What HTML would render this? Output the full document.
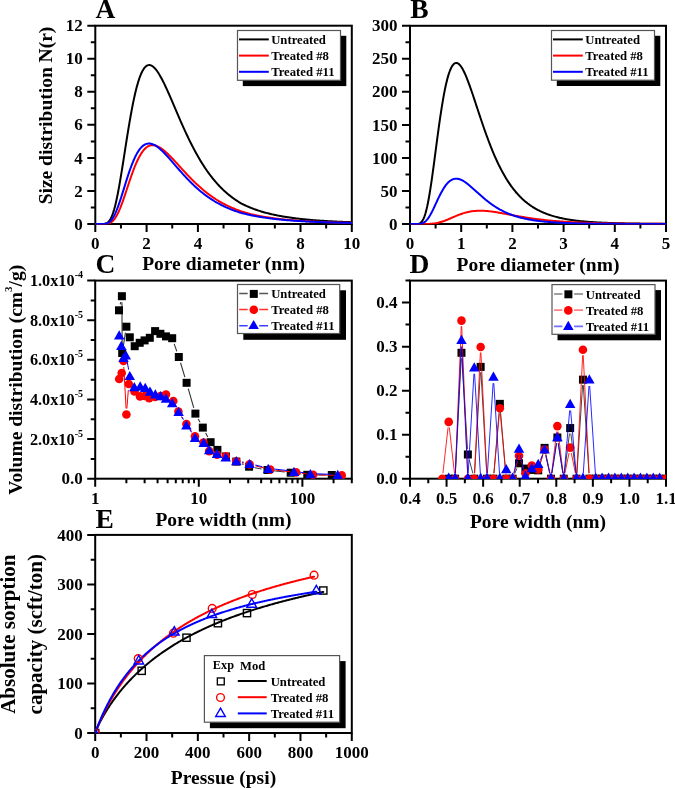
<!DOCTYPE html>
<html><head><meta charset="utf-8"><style>
html,body{margin:0;padding:0;background:#fff;width:675px;height:788px;overflow:hidden}
svg{display:block;will-change:transform}
text{font-family:"Liberation Serif",serif;font-weight:bold}
</style></head><body>
<svg width="675" height="788" viewBox="0 0 675 788">
<defs>
<clipPath id="clipA"><rect x="95.3" y="25.7" width="256.5" height="198.7"/></clipPath>
<clipPath id="clipB"><rect x="410" y="25.8" width="256" height="198.6"/></clipPath>
<clipPath id="clipC"><rect x="95.2" y="280.6" width="256.6" height="198.5"/></clipPath>
<clipPath id="clipD"><rect x="410" y="280.6" width="256" height="198.5"/></clipPath>
<clipPath id="clipE"><rect x="95.2" y="534.9" width="256.6" height="198.5"/></clipPath>
</defs>
<rect width="675" height="788" fill="#fff"/>
<rect x="95.3" y="25.7" width="256.5" height="198.3" fill="none" stroke="#000" stroke-width="2.0"/>
<path d="M95.3 224V232M146.6 224V232M197.9 224V232M249.2 224V232M300.5 224V232M351.8 224V232M120.95 224V228.5M172.25 224V228.5M223.55 224V228.5M274.85 224V228.5M326.15 224V228.5" stroke="#000" stroke-width="2.0" fill="none"/>
<text x="95.3" y="249.3" font-size="17" text-anchor="middle" font-family="Liberation Serif" font-weight="bold">0</text>
<text x="146.6" y="249.3" font-size="17" text-anchor="middle" font-family="Liberation Serif" font-weight="bold">2</text>
<text x="197.9" y="249.3" font-size="17" text-anchor="middle" font-family="Liberation Serif" font-weight="bold">4</text>
<text x="249.2" y="249.3" font-size="17" text-anchor="middle" font-family="Liberation Serif" font-weight="bold">6</text>
<text x="300.5" y="249.3" font-size="17" text-anchor="middle" font-family="Liberation Serif" font-weight="bold">8</text>
<text x="351.8" y="249.3" font-size="17" text-anchor="middle" font-family="Liberation Serif" font-weight="bold">10</text>
<path d="M95.3 224H87.3M95.3 190.95H87.3M95.3 157.9H87.3M95.3 124.85H87.3M95.3 91.8H87.3M95.3 58.75H87.3M95.3 25.7H87.3M95.3 207.47H90.8M95.3 174.43H90.8M95.3 141.38H90.8M95.3 108.32H90.8M95.3 75.27H90.8M95.3 42.22H90.8" stroke="#000" stroke-width="2.0" fill="none"/>
<text x="82.8" y="229.6" font-size="17" text-anchor="end" font-family="Liberation Serif" font-weight="bold">0</text>
<text x="82.8" y="196.55" font-size="17" text-anchor="end" font-family="Liberation Serif" font-weight="bold">2</text>
<text x="82.8" y="163.5" font-size="17" text-anchor="end" font-family="Liberation Serif" font-weight="bold">4</text>
<text x="82.8" y="130.45" font-size="17" text-anchor="end" font-family="Liberation Serif" font-weight="bold">6</text>
<text x="82.8" y="97.4" font-size="17" text-anchor="end" font-family="Liberation Serif" font-weight="bold">8</text>
<text x="82.8" y="64.35" font-size="17" text-anchor="end" font-family="Liberation Serif" font-weight="bold">10</text>
<text x="82.8" y="31.3" font-size="17" text-anchor="end" font-family="Liberation Serif" font-weight="bold">12</text>
<g clip-path="url(#clipA)">
<path d="M95.3 224 L96.16 224 L97.01 224 L97.87 224 L98.72 224 L99.58 224 L100.43 224 L101.29 224 L102.14 223.98 L103 223.96 L103.85 223.9 L104.71 223.79 L105.56 223.59 L106.42 223.28 L107.27 222.83 L108.13 222.18 L108.98 221.3 L109.84 220.16 L110.69 218.72 L111.55 216.96 L112.4 214.86 L113.26 212.41 L114.11 209.6 L114.97 206.44 L115.82 202.93 L116.68 199.09 L117.53 194.94 L118.39 190.51 L119.24 185.83 L120.1 180.93 L120.95 175.85 L121.81 170.61 L122.66 165.26 L123.52 159.83 L124.37 154.36 L125.23 148.88 L126.08 143.42 L126.94 138.01 L127.79 132.69 L128.65 127.48 L129.5 122.4 L130.36 117.47 L131.21 112.72 L132.07 108.16 L132.92 103.79 L133.78 99.65 L134.63 95.73 L135.49 92.04 L136.34 88.59 L137.2 85.38 L138.05 82.42 L138.91 79.7 L139.76 77.23 L140.62 75 L141.47 73.01 L142.33 71.26 L143.18 69.74 L144.04 68.44 L144.89 67.37 L145.75 66.51 L146.6 65.85 L147.46 65.39 L148.31 65.12 L149.17 65.03 L150.02 65.11 L150.88 65.35 L151.73 65.74 L152.59 66.27 L153.44 66.93 L154.3 67.72 L155.15 68.62 L156.01 69.64 L156.86 70.76 L157.72 71.97 L158.57 73.28 L159.43 74.67 L160.28 76.14 L161.14 77.67 L161.99 79.27 L162.85 80.93 L163.7 82.64 L164.56 84.4 L165.41 86.21 L166.27 88.05 L167.12 89.92 L167.98 91.82 L168.83 93.75 L169.69 95.7 L170.54 97.67 L171.4 99.65 L172.25 101.64 L173.11 103.64 L173.96 105.64 L174.82 107.65 L175.67 109.65 L176.53 111.65 L177.38 113.65 L178.24 115.63 L179.09 117.61 L179.95 119.58 L180.8 121.54 L181.66 123.48 L182.51 125.4 L183.37 127.31 L184.22 129.2 L185.08 131.07 L185.93 132.92 L186.79 134.75 L187.64 136.55 L188.5 138.34 L189.35 140.1 L190.21 141.84 L191.06 143.55 L191.92 145.24 L192.77 146.9 L193.63 148.54 L194.48 150.15 L195.34 151.73 L196.19 153.3 L197.05 154.83 L197.9 156.34 L198.76 157.82 L199.61 159.27 L200.47 160.7 L201.32 162.11 L202.18 163.49 L203.03 164.84 L203.89 166.16 L204.74 167.46 L205.6 168.74 L206.45 169.99 L207.31 171.22 L208.16 172.42 L209.02 173.6 L209.87 174.75 L210.73 175.88 L211.58 176.98 L212.44 178.07 L213.29 179.13 L214.15 180.17 L215 181.18 L215.86 182.18 L216.71 183.15 L217.57 184.1 L218.42 185.03 L219.28 185.94 L220.13 186.83 L220.99 187.7 L221.84 188.55 L222.7 189.38 L223.55 190.2 L224.41 190.99 L225.26 191.77 L226.12 192.53 L226.97 193.27 L227.83 194 L228.68 194.71 L229.54 195.4 L230.39 196.08 L231.25 196.74 L232.1 197.38 L232.96 198.01 L233.81 198.63 L234.67 199.23 L235.52 199.82 L236.38 200.39 L237.23 200.95 L238.09 201.5 L238.94 202.03 L239.8 202.55 L240.65 203.06 L241.51 203.56 L242.36 204.01 L243.22 204.43 L244.07 204.85 L244.93 205.26 L245.78 205.65 L246.64 206.04 L247.49 206.42 L248.35 206.79 L249.2 207.15 L250.06 207.51 L250.91 207.85 L251.77 208.19 L252.62 208.52 L253.48 208.84 L254.33 209.16 L255.19 209.47 L256.04 209.77 L256.9 210.06 L257.75 210.35 L258.61 210.63 L259.46 210.9 L260.32 211.17 L261.17 211.43 L262.03 211.69 L262.88 211.94 L263.74 212.19 L264.59 212.43 L265.45 212.66 L266.3 212.89 L267.16 213.11 L268.01 213.33 L268.87 213.55 L269.72 213.76 L270.58 213.96 L271.43 214.16 L272.29 214.36 L273.14 214.55 L274 214.73 L274.85 214.92 L275.71 215.1 L276.56 215.27 L277.42 215.44 L278.27 215.61 L279.13 215.77 L279.98 215.93 L280.84 216.09 L281.69 216.25 L282.55 216.4 L283.4 216.54 L284.26 216.69 L285.11 216.83 L285.97 216.96 L286.82 217.1 L287.68 217.23 L288.53 217.36 L289.39 217.49 L290.24 217.61 L291.1 217.73 L291.95 217.85 L292.81 217.97 L293.66 218.08 L294.52 218.19 L295.37 218.3 L296.23 218.41 L297.08 218.51 L297.94 218.61 L298.79 218.71 L299.65 218.81 L300.5 218.91 L301.36 219 L302.21 219.09 L303.07 219.18 L303.92 219.27 L304.78 219.36 L305.63 219.44 L306.49 219.52 L307.34 219.6 L308.2 219.68 L309.05 219.76 L309.91 219.84 L310.76 219.91 L311.62 219.99 L312.47 220.06 L313.33 220.13 L314.18 220.2 L315.04 220.27 L315.89 220.33 L316.75 220.4 L317.6 220.46 L318.46 220.52 L319.31 220.58 L320.17 220.64 L321.02 220.7 L321.88 220.76 L322.73 220.82 L323.59 220.87 L324.44 220.93 L325.3 220.98 L326.15 221.03 L327.01 221.08 L327.86 221.13 L328.72 221.18 L329.57 221.23 L330.43 221.28 L331.28 221.32 L332.14 221.37 L332.99 221.41 L333.85 221.46 L334.7 221.5 L335.56 221.54 L336.41 221.58 L337.27 221.63 L338.12 221.66 L338.98 221.7 L339.83 221.74 L340.69 221.78 L341.54 221.82 L342.4 221.85 L343.25 221.89 L344.11 221.92 L344.96 221.96 L345.82 221.99 L346.67 222.02 L347.53 222.06 L348.38 222.09 L349.24 222.12 L350.09 222.15 L350.95 222.18 L351.8 222.21" fill="none" stroke="#000" stroke-width="2" stroke-linejoin="round" stroke-linecap="round" />
<path d="M95.3 224 L96.16 224 L97.01 224 L97.87 224 L98.72 224 L99.58 224 L100.43 224 L101.29 224 L102.14 224 L103 223.99 L103.85 223.98 L104.71 223.96 L105.56 223.91 L106.42 223.84 L107.27 223.72 L108.13 223.55 L108.98 223.31 L109.84 222.97 L110.69 222.53 L111.55 221.98 L112.4 221.29 L113.26 220.46 L114.11 219.48 L114.97 218.35 L115.82 217.06 L116.68 215.61 L117.53 214 L118.39 212.25 L119.24 210.36 L120.1 208.33 L120.95 206.18 L121.81 203.93 L122.66 201.58 L123.52 199.16 L124.37 196.67 L125.23 194.13 L126.08 191.56 L126.94 188.97 L127.79 186.38 L128.65 183.79 L129.5 181.24 L130.36 178.71 L131.21 176.24 L132.07 173.82 L132.92 171.47 L133.78 169.2 L134.63 167.01 L135.49 164.91 L136.34 162.91 L137.2 161 L138.05 159.2 L138.91 157.51 L139.76 155.93 L140.62 154.46 L141.47 153.11 L142.33 151.86 L143.18 150.73 L144.04 149.71 L144.89 148.8 L145.75 148 L146.6 147.3 L147.46 146.71 L148.31 146.22 L149.17 145.83 L150.02 145.53 L150.88 145.33 L151.73 145.21 L152.59 145.18 L153.44 145.22 L154.3 145.33 L155.15 145.51 L156.01 145.75 L156.86 146.06 L157.72 146.42 L158.57 146.83 L159.43 147.29 L160.28 147.8 L161.14 148.36 L161.99 148.95 L162.85 149.59 L163.7 150.26 L164.56 150.96 L165.41 151.69 L166.27 152.45 L167.12 153.24 L167.98 154.05 L168.83 154.88 L169.69 155.73 L170.54 156.6 L171.4 157.48 L172.25 158.37 L173.11 159.28 L173.96 160.2 L174.82 161.12 L175.67 162.05 L176.53 162.99 L177.38 163.93 L178.24 164.87 L179.09 165.81 L179.95 166.76 L180.8 167.7 L181.66 168.64 L182.51 169.58 L183.37 170.52 L184.22 171.45 L185.08 172.37 L185.93 173.29 L186.79 174.21 L187.64 175.11 L188.5 176.01 L189.35 176.9 L190.21 177.79 L191.06 178.66 L191.92 179.52 L192.77 180.38 L193.63 181.22 L194.48 182.06 L195.34 182.88 L196.19 183.69 L197.05 184.49 L197.9 185.28 L198.76 186.06 L199.61 186.83 L200.47 187.59 L201.32 188.33 L202.18 189.07 L203.03 189.79 L203.89 190.5 L204.74 191.2 L205.6 191.88 L206.45 192.56 L207.31 193.22 L208.16 193.87 L209.02 194.51 L209.87 195.14 L210.73 195.76 L211.58 196.37 L212.44 196.96 L213.29 197.55 L214.15 198.12 L215 198.68 L215.86 199.23 L216.71 199.77 L217.57 200.3 L218.42 200.82 L219.28 201.33 L220.13 201.83 L220.99 202.32 L221.84 202.79 L222.7 203.26 L223.55 203.72 L224.41 204.17 L225.26 204.61 L226.12 205.04 L226.97 205.47 L227.83 205.88 L228.68 206.28 L229.54 206.68 L230.39 207.07 L231.25 207.45 L232.1 207.82 L232.96 208.18 L233.81 208.54 L234.67 208.89 L235.52 209.23 L236.38 209.56 L237.23 209.88 L238.09 210.2 L238.94 210.51 L239.8 210.82 L240.65 211.12 L241.51 211.41 L242.36 211.69 L243.22 211.97 L244.07 212.24 L244.93 212.51 L245.78 212.77 L246.64 213.02 L247.49 213.27 L248.35 213.51 L249.2 213.75 L250.06 213.98 L250.91 214.21 L251.77 214.41 L252.62 214.6 L253.48 214.79 L254.33 214.98 L255.19 215.16 L256.04 215.34 L256.9 215.51 L257.75 215.68 L258.61 215.85 L259.46 216.01 L260.32 216.17 L261.17 216.33 L262.03 216.48 L262.88 216.63 L263.74 216.78 L264.59 216.92 L265.45 217.06 L266.3 217.2 L267.16 217.33 L268.01 217.46 L268.87 217.59 L269.72 217.71 L270.58 217.84 L271.43 217.96 L272.29 218.07 L273.14 218.19 L274 218.3 L274.85 218.41 L275.71 218.52 L276.56 218.63 L277.42 218.73 L278.27 218.83 L279.13 218.93 L279.98 219.03 L280.84 219.12 L281.69 219.21 L282.55 219.3 L283.4 219.39 L284.26 219.48 L285.11 219.57 L285.97 219.65 L286.82 219.73 L287.68 219.81 L288.53 219.89 L289.39 219.97 L290.24 220.04 L291.1 220.11 L291.95 220.19 L292.81 220.26 L293.66 220.33 L294.52 220.39 L295.37 220.46 L296.23 220.53 L297.08 220.59 L297.94 220.65 L298.79 220.71 L299.65 220.77 L300.5 220.83 L301.36 220.89 L302.21 220.94 L303.07 221 L303.92 221.05 L304.78 221.11 L305.63 221.16 L306.49 221.21 L307.34 221.26 L308.2 221.31 L309.05 221.36 L309.91 221.4 L310.76 221.45 L311.62 221.49 L312.47 221.54 L313.33 221.58 L314.18 221.62 L315.04 221.67 L315.89 221.71 L316.75 221.75 L317.6 221.79 L318.46 221.82 L319.31 221.86 L320.17 221.9 L321.02 221.93 L321.88 221.97 L322.73 222.01 L323.59 222.04 L324.44 222.07 L325.3 222.11 L326.15 222.14 L327.01 222.17 L327.86 222.2 L328.72 222.23 L329.57 222.26 L330.43 222.29 L331.28 222.32 L332.14 222.35 L332.99 222.38 L333.85 222.4 L334.7 222.43 L335.56 222.46 L336.41 222.48 L337.27 222.51 L338.12 222.53 L338.98 222.55 L339.83 222.58 L340.69 222.6 L341.54 222.62 L342.4 222.65 L343.25 222.67 L344.11 222.69 L344.96 222.71 L345.82 222.73 L346.67 222.75 L347.53 222.77 L348.38 222.79 L349.24 222.81 L350.09 222.83 L350.95 222.85 L351.8 222.87" fill="none" stroke="#ff0000" stroke-width="2" stroke-linejoin="round" stroke-linecap="round" />
<path d="M95.3 224 L96.16 224 L97.01 224 L97.87 224 L98.72 224 L99.58 224 L100.43 224 L101.29 224 L102.14 223.99 L103 223.97 L103.85 223.93 L104.71 223.85 L105.56 223.73 L106.42 223.54 L107.27 223.25 L108.13 222.86 L108.98 222.34 L109.84 221.68 L110.69 220.86 L111.55 219.86 L112.4 218.69 L113.26 217.33 L114.11 215.8 L114.97 214.09 L115.82 212.2 L116.68 210.16 L117.53 207.97 L118.39 205.64 L119.24 203.2 L120.1 200.66 L120.95 198.04 L121.81 195.35 L122.66 192.62 L123.52 189.87 L124.37 187.1 L125.23 184.34 L126.08 181.6 L126.94 178.9 L127.79 176.25 L128.65 173.67 L129.5 171.16 L130.36 168.73 L131.21 166.39 L132.07 164.15 L132.92 162.02 L133.78 160 L134.63 158.09 L135.49 156.3 L136.34 154.63 L137.2 153.09 L138.05 151.66 L138.91 150.36 L139.76 149.18 L140.62 148.12 L141.47 147.18 L142.33 146.35 L143.18 145.63 L144.04 145.03 L144.89 144.53 L145.75 144.14 L146.6 143.85 L147.46 143.65 L148.31 143.54 L149.17 143.53 L150.02 143.59 L150.88 143.73 L151.73 143.94 L152.59 144.22 L153.44 144.56 L154.3 144.97 L155.15 145.43 L156.01 145.95 L156.86 146.51 L157.72 147.12 L158.57 147.78 L159.43 148.47 L160.28 149.2 L161.14 149.97 L161.99 150.76 L162.85 151.59 L163.7 152.43 L164.56 153.31 L165.41 154.2 L166.27 155.11 L167.12 156.04 L167.98 156.98 L168.83 157.94 L169.69 158.9 L170.54 159.87 L171.4 160.85 L172.25 161.84 L173.11 162.83 L173.96 163.82 L174.82 164.81 L175.67 165.8 L176.53 166.79 L177.38 167.78 L178.24 168.76 L179.09 169.74 L179.95 170.72 L180.8 171.68 L181.66 172.65 L182.51 173.6 L183.37 174.55 L184.22 175.48 L185.08 176.41 L185.93 177.33 L186.79 178.24 L187.64 179.14 L188.5 180.03 L189.35 180.9 L190.21 181.77 L191.06 182.62 L191.92 183.46 L192.77 184.29 L193.63 185.11 L194.48 185.91 L195.34 186.7 L196.19 187.48 L197.05 188.25 L197.9 189 L198.76 189.75 L199.61 190.48 L200.47 191.19 L201.32 191.9 L202.18 192.59 L203.03 193.27 L203.89 193.93 L204.74 194.59 L205.6 195.23 L206.45 195.86 L207.31 196.48 L208.16 197.08 L209.02 197.68 L209.87 198.26 L210.73 198.83 L211.58 199.39 L212.44 199.94 L213.29 200.48 L214.15 201 L215 201.52 L215.86 202.02 L216.71 202.52 L217.57 203 L218.42 203.47 L219.28 203.94 L220.13 204.39 L220.99 204.83 L221.84 205.27 L222.7 205.69 L223.55 206.11 L224.41 206.52 L225.26 206.91 L226.12 207.3 L226.97 207.68 L227.83 208.06 L228.68 208.42 L229.54 208.77 L230.39 209.12 L231.25 209.46 L232.1 209.8 L232.96 210.12 L233.81 210.44 L234.67 210.75 L235.52 211.05 L236.38 211.35 L237.23 211.64 L238.09 211.92 L238.94 212.2 L239.8 212.47 L240.65 212.73 L241.51 212.98 L242.36 213.2 L243.22 213.43 L244.07 213.64 L244.93 213.86 L245.78 214.06 L246.64 214.27 L247.49 214.47 L248.35 214.66 L249.2 214.85 L250.06 215.04 L250.91 215.22 L251.77 215.4 L252.62 215.57 L253.48 215.74 L254.33 215.9 L255.19 216.07 L256.04 216.23 L256.9 216.38 L257.75 216.53 L258.61 216.68 L259.46 216.83 L260.32 216.97 L261.17 217.11 L262.03 217.24 L262.88 217.38 L263.74 217.51 L264.59 217.63 L265.45 217.76 L266.3 217.88 L267.16 218 L268.01 218.12 L268.87 218.23 L269.72 218.34 L270.58 218.45 L271.43 218.56 L272.29 218.66 L273.14 218.76 L274 218.87 L274.85 218.96 L275.71 219.06 L276.56 219.15 L277.42 219.25 L278.27 219.34 L279.13 219.42 L279.98 219.51 L280.84 219.59 L281.69 219.68 L282.55 219.76 L283.4 219.84 L284.26 219.91 L285.11 219.99 L285.97 220.06 L286.82 220.14 L287.68 220.21 L288.53 220.28 L289.39 220.35 L290.24 220.41 L291.1 220.48 L291.95 220.54 L292.81 220.61 L293.66 220.67 L294.52 220.73 L295.37 220.79 L296.23 220.85 L297.08 220.9 L297.94 220.96 L298.79 221.01 L299.65 221.07 L300.5 221.12 L301.36 221.17 L302.21 221.22 L303.07 221.27 L303.92 221.32 L304.78 221.37 L305.63 221.41 L306.49 221.46 L307.34 221.5 L308.2 221.55 L309.05 221.59 L309.91 221.63 L310.76 221.67 L311.62 221.71 L312.47 221.75 L313.33 221.79 L314.18 221.83 L315.04 221.87 L315.89 221.9 L316.75 221.94 L317.6 221.97 L318.46 222.01 L319.31 222.04 L320.17 222.08 L321.02 222.11 L321.88 222.14 L322.73 222.17 L323.59 222.2 L324.44 222.23 L325.3 222.26 L326.15 222.29 L327.01 222.32 L327.86 222.35 L328.72 222.38 L329.57 222.4 L330.43 222.43 L331.28 222.45 L332.14 222.48 L332.99 222.51 L333.85 222.53 L334.7 222.55 L335.56 222.58 L336.41 222.6 L337.27 222.62 L338.12 222.65 L338.98 222.67 L339.83 222.69 L340.69 222.71 L341.54 222.73 L342.4 222.75 L343.25 222.77 L344.11 222.79 L344.96 222.81 L345.82 222.83 L346.67 222.85 L347.53 222.87 L348.38 222.88 L349.24 222.9 L350.09 222.92 L350.95 222.94 L351.8 222.95" fill="none" stroke="#0000ff" stroke-width="2" stroke-linejoin="round" stroke-linecap="round" />
</g>
<rect x="242.8" y="35.8" width="103.5" height="50.3" fill="#000"/>
<rect x="237.5" y="30.5" width="103" height="49.8" fill="#fff" stroke="#555" stroke-width="1.2"/>
<path d="M239 39.4H268.8" stroke="#000" stroke-width="2"/>
<text x="271.2" y="44" font-size="12.7" text-anchor="start" font-family="Liberation Serif" font-weight="bold" >Untreated</text>
<path d="M239 55.6H268.8" stroke="#ff0000" stroke-width="2"/>
<text x="271.2" y="60.2" font-size="12.7" text-anchor="start" font-family="Liberation Serif" font-weight="bold" >Treated #8</text>
<path d="M239 71.8H268.8" stroke="#0000ff" stroke-width="2"/>
<text x="271.2" y="76.4" font-size="12.7" text-anchor="start" font-family="Liberation Serif" font-weight="bold" >Treated #11</text>
<text x="95.5" y="18.1" font-size="27.5" text-anchor="start" font-family="Liberation Serif" font-weight="bold" >A</text>
<text x="223.55" y="270.3" font-size="19.5" text-anchor="middle" font-family="Liberation Serif" font-weight="bold" >Pore diameter (nm)</text>
<text transform="translate(51.8 115.5) rotate(-90)" x="0" y="0" font-size="19.5" text-anchor="middle" font-family="Liberation Serif" font-weight="bold" >Size distribution N(r)</text>
<rect x="410" y="25.8" width="256" height="198.2" fill="none" stroke="#000" stroke-width="2.0"/>
<path d="M410 224V232M461.2 224V232M512.4 224V232M563.6 224V232M614.8 224V232M666 224V232M435.6 224V228.5M486.8 224V228.5M538 224V228.5M589.2 224V228.5M640.4 224V228.5" stroke="#000" stroke-width="2.0" fill="none"/>
<text x="410" y="249.3" font-size="17" text-anchor="middle" font-family="Liberation Serif" font-weight="bold">0</text>
<text x="461.2" y="249.3" font-size="17" text-anchor="middle" font-family="Liberation Serif" font-weight="bold">1</text>
<text x="512.4" y="249.3" font-size="17" text-anchor="middle" font-family="Liberation Serif" font-weight="bold">2</text>
<text x="563.6" y="249.3" font-size="17" text-anchor="middle" font-family="Liberation Serif" font-weight="bold">3</text>
<text x="614.8" y="249.3" font-size="17" text-anchor="middle" font-family="Liberation Serif" font-weight="bold">4</text>
<text x="666" y="249.3" font-size="17" text-anchor="middle" font-family="Liberation Serif" font-weight="bold">5</text>
<path d="M410 224H402M410 190.97H402M410 157.93H402M410 124.9H402M410 91.87H402M410 58.83H402M410 25.8H402M410 207.48H405.5M410 174.45H405.5M410 141.42H405.5M410 108.38H405.5M410 75.35H405.5M410 42.32H405.5" stroke="#000" stroke-width="2.0" fill="none"/>
<text x="397.5" y="229.6" font-size="17" text-anchor="end" font-family="Liberation Serif" font-weight="bold">0</text>
<text x="397.5" y="196.57" font-size="17" text-anchor="end" font-family="Liberation Serif" font-weight="bold">50</text>
<text x="397.5" y="163.53" font-size="17" text-anchor="end" font-family="Liberation Serif" font-weight="bold">100</text>
<text x="397.5" y="130.5" font-size="17" text-anchor="end" font-family="Liberation Serif" font-weight="bold">150</text>
<text x="397.5" y="97.47" font-size="17" text-anchor="end" font-family="Liberation Serif" font-weight="bold">200</text>
<text x="397.5" y="64.43" font-size="17" text-anchor="end" font-family="Liberation Serif" font-weight="bold">250</text>
<text x="397.5" y="31.4" font-size="17" text-anchor="end" font-family="Liberation Serif" font-weight="bold">300</text>
<g clip-path="url(#clipB)">
<path d="M410.01 224 L410.86 224 L411.71 224 L412.57 224 L413.42 224 L414.27 224 L415.13 224 L415.98 223.99 L416.83 223.96 L417.68 223.89 L418.54 223.75 L419.39 223.49 L420.24 223.06 L421.1 222.41 L421.95 221.46 L422.8 220.16 L423.66 218.47 L424.51 216.33 L425.36 213.73 L426.22 210.64 L427.07 207.05 L427.92 202.99 L428.78 198.47 L429.63 193.53 L430.48 188.2 L431.34 182.54 L432.19 176.6 L433.04 170.43 L433.9 164.09 L434.75 157.64 L435.6 151.15 L436.46 144.65 L437.31 138.2 L438.16 131.86 L439.02 125.66 L439.87 119.65 L440.72 113.85 L441.58 108.31 L442.43 103.04 L443.28 98.07 L444.14 93.41 L444.99 89.07 L445.84 85.07 L446.7 81.42 L447.55 78.11 L448.4 75.14 L449.26 72.52 L450.11 70.23 L450.96 68.28 L451.82 66.64 L452.67 65.32 L453.52 64.3 L454.38 63.57 L455.23 63.12 L456.08 62.94 L456.94 63 L457.79 63.32 L458.64 63.87 L459.5 64.63 L460.35 65.61 L461.2 66.77 L462.06 68.1 L462.91 69.6 L463.76 71.25 L464.62 73.03 L465.47 74.93 L466.32 76.95 L467.18 79.06 L468.03 81.27 L468.88 83.55 L469.74 85.89 L470.59 88.3 L471.44 90.76 L472.3 93.25 L473.15 95.78 L474 98.34 L474.86 100.91 L475.71 103.5 L476.56 106.09 L477.42 108.69 L478.27 111.28 L479.12 113.86 L479.98 116.43 L480.83 118.99 L481.68 121.52 L482.54 124.03 L483.39 126.51 L484.24 128.97 L485.1 131.39 L485.95 133.78 L486.8 136.14 L487.66 138.45 L488.51 140.73 L489.36 142.97 L490.22 145.17 L491.07 147.33 L491.92 149.45 L492.78 151.52 L493.63 153.55 L494.48 155.54 L495.34 157.49 L496.19 159.39 L497.04 161.24 L497.9 163.06 L498.75 164.83 L499.6 166.56 L500.46 168.25 L501.31 169.89 L502.16 171.49 L503.02 173.06 L503.87 174.58 L504.72 176.06 L505.58 177.5 L506.43 178.9 L507.28 180.27 L508.14 181.6 L508.99 182.89 L509.84 184.14 L510.7 185.36 L511.55 186.55 L512.4 187.7 L513.26 188.82 L514.11 189.91 L514.96 190.96 L515.82 191.99 L516.67 192.98 L517.52 193.94 L518.38 194.88 L519.23 195.79 L520.08 196.67 L520.94 197.52 L521.79 198.35 L522.64 199.16 L523.5 199.93 L524.35 200.69 L525.2 201.42 L526.06 202.13 L526.91 202.82 L527.76 203.49 L528.62 204.13 L529.47 204.76 L530.32 205.36 L531.18 205.95 L532.03 206.52 L532.88 207.07 L533.74 207.6 L534.59 208.12 L535.44 208.62 L536.3 209.11 L537.15 209.58 L538 210.03 L538.86 210.47 L539.71 210.9 L540.56 211.31 L541.42 211.71 L542.27 212.1 L543.12 212.47 L543.98 212.84 L544.83 213.19 L545.68 213.53 L546.54 213.86 L547.39 214.18 L548.24 214.49 L549.1 214.78 L549.95 215.07 L550.8 215.35 L551.66 215.63 L552.51 215.89 L553.36 216.14 L554.22 216.39 L555.07 216.63 L555.92 216.86 L556.78 217.08 L557.63 217.29 L558.48 217.5 L559.34 217.71 L560.19 217.9 L561.04 218.09 L561.9 218.28 L562.75 218.45 L563.6 218.63 L564.46 218.79 L565.31 218.95 L566.16 219.11 L567.02 219.26 L567.87 219.41 L568.72 219.55 L569.58 219.69 L570.43 219.82 L571.28 219.95 L572.14 220.07 L572.99 220.19 L573.84 220.31 L574.7 220.42 L575.55 220.53 L576.4 220.64 L577.26 220.74 L578.11 220.84 L578.96 220.94 L579.82 221.03 L580.67 221.12 L581.52 221.21 L582.38 221.29 L583.23 221.37 L584.08 221.45 L584.93 221.53 L585.79 221.6 L586.64 221.68 L587.49 221.75 L588.35 221.81 L589.2 221.88 L590.05 221.94 L590.91 222 L591.76 222.06 L592.61 222.12 L593.47 222.18 L594.32 222.23 L595.17 222.28 L596.03 222.34 L596.88 222.39 L597.73 222.43 L598.59 222.48 L599.44 222.52 L600.29 222.57 L601.15 222.61 L602 222.65 L602.85 222.69 L603.71 222.73 L604.56 222.77 L605.41 222.8 L606.27 222.84 L607.12 222.87 L607.97 222.9 L608.83 222.94 L609.68 222.97 L610.53 223 L611.39 223.03 L612.24 223.06 L613.09 223.08 L613.95 223.11 L614.8 223.13 L615.65 223.16 L616.51 223.18 L617.36 223.21 L618.21 223.23 L619.07 223.25 L619.92 223.27 L620.77 223.29 L621.63 223.31 L622.48 223.33 L623.33 223.35 L624.19 223.37 L625.04 223.39 L625.89 223.41 L626.75 223.42 L627.6 223.44 L628.45 223.46 L629.31 223.47 L630.16 223.49 L631.01 223.5 L631.87 223.51 L632.72 223.53 L633.57 223.54 L634.43 223.55 L635.28 223.57 L636.13 223.58 L636.99 223.59 L637.84 223.6 L638.69 223.61 L639.55 223.62 L640.4 223.63 L641.25 223.64 L642.11 223.65 L642.96 223.66 L643.81 223.67 L644.67 223.68 L645.52 223.69 L646.37 223.7 L647.23 223.71 L648.08 223.72 L648.93 223.72 L649.79 223.73 L650.64 223.74 L651.49 223.75 L652.35 223.75 L653.2 223.76 L654.05 223.77 L654.91 223.77 L655.76 223.78 L656.61 223.78 L657.47 223.79 L658.32 223.8 L659.17 223.8 L660.03 223.81 L660.88 223.81 L661.73 223.82 L662.59 223.82 L663.44 223.83 L664.29 223.83 L665.15 223.84 L666 223.84" fill="none" stroke="#000" stroke-width="2" stroke-linejoin="round" stroke-linecap="round" />
<path d="M410.01 224 L410.86 224 L411.71 224 L412.57 224 L413.42 224 L414.27 224 L415.13 224 L415.98 224 L416.83 224 L417.68 224 L418.54 224 L419.39 224 L420.24 224 L421.1 224 L421.95 224 L422.8 224 L423.66 223.99 L424.51 223.99 L425.36 223.98 L426.22 223.97 L427.07 223.95 L427.92 223.93 L428.78 223.9 L429.63 223.87 L430.48 223.82 L431.34 223.76 L432.19 223.69 L433.04 223.6 L433.9 223.5 L434.75 223.39 L435.6 223.25 L436.46 223.1 L437.31 222.93 L438.16 222.75 L439.02 222.54 L439.87 222.32 L440.72 222.08 L441.58 221.82 L442.43 221.54 L443.28 221.25 L444.14 220.95 L444.99 220.63 L445.84 220.3 L446.7 219.96 L447.55 219.61 L448.4 219.25 L449.26 218.89 L450.11 218.52 L450.96 218.15 L451.82 217.78 L452.67 217.41 L453.52 217.04 L454.38 216.67 L455.23 216.31 L456.08 215.95 L456.94 215.6 L457.79 215.25 L458.64 214.92 L459.5 214.59 L460.35 214.28 L461.2 213.97 L462.06 213.68 L462.91 213.4 L463.76 213.13 L464.62 212.88 L465.47 212.64 L466.32 212.41 L467.18 212.2 L468.03 212.01 L468.88 211.82 L469.74 211.66 L470.59 211.5 L471.44 211.36 L472.3 211.24 L473.15 211.13 L474 211.03 L474.86 210.95 L475.71 210.88 L476.56 210.82 L477.42 210.78 L478.27 210.75 L479.12 210.73 L479.98 210.72 L480.83 210.72 L481.68 210.74 L482.54 210.76 L483.39 210.8 L484.24 210.84 L485.1 210.89 L485.95 210.96 L486.8 211.03 L487.66 211.1 L488.51 211.19 L489.36 211.28 L490.22 211.38 L491.07 211.49 L491.92 211.6 L492.78 211.71 L493.63 211.84 L494.48 211.96 L495.34 212.09 L496.19 212.23 L497.04 212.36 L497.9 212.5 L498.75 212.65 L499.6 212.8 L500.46 212.94 L501.31 213.1 L502.16 213.25 L503.02 213.4 L503.87 213.56 L504.72 213.72 L505.58 213.88 L506.43 214.03 L507.28 214.19 L508.14 214.35 L508.99 214.51 L509.84 214.67 L510.7 214.83 L511.55 214.99 L512.4 215.15 L513.26 215.31 L514.11 215.46 L514.96 215.62 L515.82 215.78 L516.67 215.93 L517.52 216.08 L518.38 216.23 L519.23 216.38 L520.08 216.53 L520.94 216.68 L521.79 216.83 L522.64 216.97 L523.5 217.11 L524.35 217.25 L525.2 217.39 L526.06 217.53 L526.91 217.66 L527.76 217.8 L528.62 217.93 L529.47 218.06 L530.32 218.18 L531.18 218.31 L532.03 218.43 L532.88 218.55 L533.74 218.67 L534.59 218.79 L535.44 218.9 L536.3 219.02 L537.15 219.13 L538 219.24 L538.86 219.35 L539.71 219.45 L540.56 219.55 L541.42 219.66 L542.27 219.75 L543.12 219.85 L543.98 219.95 L544.83 220.04 L545.68 220.13 L546.54 220.22 L547.39 220.31 L548.24 220.4 L549.1 220.48 L549.95 220.57 L550.8 220.65 L551.66 220.73 L552.51 220.8 L553.36 220.88 L554.22 220.95 L555.07 221.03 L555.92 221.1 L556.78 221.17 L557.63 221.24 L558.48 221.3 L559.34 221.37 L560.19 221.43 L561.04 221.49 L561.9 221.55 L562.75 221.61 L563.6 221.67 L564.46 221.73 L565.31 221.78 L566.16 221.84 L567.02 221.89 L567.87 221.94 L568.72 221.99 L569.58 222.04 L570.43 222.09 L571.28 222.14 L572.14 222.18 L572.99 222.23 L573.84 222.27 L574.7 222.32 L575.55 222.36 L576.4 222.4 L577.26 222.44 L578.11 222.48 L578.96 222.51 L579.82 222.55 L580.67 222.59 L581.52 222.62 L582.38 222.66 L583.23 222.69 L584.08 222.72 L584.93 222.76 L585.79 222.79 L586.64 222.82 L587.49 222.85 L588.35 222.87 L589.2 222.9 L590.05 222.93 L590.91 222.96 L591.76 222.98 L592.61 223.01 L593.47 223.03 L594.32 223.06 L595.17 223.08 L596.03 223.1 L596.88 223.13 L597.73 223.15 L598.59 223.17 L599.44 223.19 L600.29 223.21 L601.15 223.23 L602 223.25 L602.85 223.27 L603.71 223.29 L604.56 223.31 L605.41 223.32 L606.27 223.34 L607.12 223.36 L607.97 223.37 L608.83 223.39 L609.68 223.4 L610.53 223.42 L611.39 223.43 L612.24 223.45 L613.09 223.46 L613.95 223.47 L614.8 223.49 L615.65 223.5 L616.51 223.51 L617.36 223.52 L618.21 223.54 L619.07 223.55 L619.92 223.56 L620.77 223.57 L621.63 223.58 L622.48 223.59 L623.33 223.6 L624.19 223.61 L625.04 223.62 L625.89 223.63 L626.75 223.64 L627.6 223.65 L628.45 223.66 L629.31 223.67 L630.16 223.67 L631.01 223.68 L631.87 223.69 L632.72 223.7 L633.57 223.71 L634.43 223.71 L635.28 223.72 L636.13 223.73 L636.99 223.73 L637.84 223.74 L638.69 223.75 L639.55 223.75 L640.4 223.76 L641.25 223.76 L642.11 223.77 L642.96 223.78 L643.81 223.78 L644.67 223.79 L645.52 223.79 L646.37 223.8 L647.23 223.8 L648.08 223.81 L648.93 223.81 L649.79 223.82 L650.64 223.82 L651.49 223.83 L652.35 223.83 L653.2 223.83 L654.05 223.84 L654.91 223.84 L655.76 223.85 L656.61 223.85 L657.47 223.85 L658.32 223.86 L659.17 223.86 L660.03 223.86 L660.88 223.87 L661.73 223.87 L662.59 223.87 L663.44 223.88 L664.29 223.88 L665.15 223.88 L666 223.89" fill="none" stroke="#ff0000" stroke-width="2" stroke-linejoin="round" stroke-linecap="round" />
<path d="M410.01 224 L410.86 224 L411.71 224 L412.57 224 L413.42 224 L414.27 224 L415.13 224 L415.98 224 L416.83 223.99 L417.68 223.98 L418.54 223.95 L419.39 223.89 L420.24 223.79 L421.1 223.63 L421.95 223.4 L422.8 223.08 L423.66 222.66 L424.51 222.11 L425.36 221.44 L426.22 220.63 L427.07 219.68 L427.92 218.59 L428.78 217.38 L429.63 216.03 L430.48 214.57 L431.34 213.01 L432.19 211.36 L433.04 209.64 L433.9 207.86 L434.75 206.04 L435.6 204.2 L436.46 202.36 L437.31 200.52 L438.16 198.7 L439.02 196.92 L439.87 195.19 L440.72 193.52 L441.58 191.92 L442.43 190.39 L443.28 188.95 L444.14 187.59 L444.99 186.33 L445.84 185.16 L446.7 184.1 L447.55 183.13 L448.4 182.26 L449.26 181.49 L450.11 180.82 L450.96 180.25 L451.82 179.77 L452.67 179.38 L453.52 179.08 L454.38 178.87 L455.23 178.74 L456.08 178.68 L456.94 178.7 L457.79 178.8 L458.64 178.97 L459.5 179.2 L460.35 179.5 L461.2 179.86 L462.06 180.27 L462.91 180.73 L463.76 181.23 L464.62 181.77 L465.47 182.36 L466.32 182.97 L467.18 183.62 L468.03 184.29 L468.88 184.98 L469.74 185.69 L470.59 186.42 L471.44 187.16 L472.3 187.92 L473.15 188.68 L474 189.45 L474.86 190.22 L475.71 191 L476.56 191.77 L477.42 192.55 L478.27 193.32 L479.12 194.09 L479.98 194.85 L480.83 195.6 L481.68 196.35 L482.54 197.09 L483.39 197.82 L484.24 198.54 L485.1 199.25 L485.95 199.95 L486.8 200.63 L487.66 201.3 L488.51 201.96 L489.36 202.61 L490.22 203.25 L491.07 203.87 L491.92 204.47 L492.78 205.07 L493.63 205.64 L494.48 206.21 L495.34 206.76 L496.19 207.3 L497.04 207.82 L497.9 208.33 L498.75 208.83 L499.6 209.32 L500.46 209.79 L501.31 210.24 L502.16 210.69 L503.02 211.12 L503.87 211.54 L504.72 211.95 L505.58 212.34 L506.43 212.73 L507.28 213.1 L508.14 213.46 L508.99 213.81 L509.84 214.15 L510.7 214.48 L511.55 214.8 L512.4 215.11 L513.26 215.41 L514.11 215.7 L514.96 215.98 L515.82 216.25 L516.67 216.51 L517.52 216.77 L518.38 217.01 L519.23 217.25 L520.08 217.48 L520.94 217.7 L521.79 217.92 L522.64 218.12 L523.5 218.33 L524.35 218.52 L525.2 218.71 L526.06 218.89 L526.91 219.06 L527.76 219.23 L528.62 219.4 L529.47 219.56 L530.32 219.71 L531.18 219.86 L532.03 220 L532.88 220.14 L533.74 220.27 L534.59 220.4 L535.44 220.52 L536.3 220.64 L537.15 220.76 L538 220.87 L538.86 220.98 L539.71 221.08 L540.56 221.18 L541.42 221.28 L542.27 221.37 L543.12 221.46 L543.98 221.55 L544.83 221.63 L545.68 221.71 L546.54 221.79 L547.39 221.87 L548.24 221.94 L549.1 222.01 L549.95 222.08 L550.8 222.15 L551.66 222.21 L552.51 222.27 L553.36 222.33 L554.22 222.39 L555.07 222.44 L555.92 222.5 L556.78 222.55 L557.63 222.6 L558.48 222.64 L559.34 222.69 L560.19 222.73 L561.04 222.78 L561.9 222.82 L562.75 222.86 L563.6 222.9 L564.46 222.93 L565.31 222.97 L566.16 223.01 L567.02 223.04 L567.87 223.07 L568.72 223.1 L569.58 223.13 L570.43 223.16 L571.28 223.19 L572.14 223.22 L572.99 223.24 L573.84 223.27 L574.7 223.29 L575.55 223.32 L576.4 223.34 L577.26 223.36 L578.11 223.38 L578.96 223.4 L579.82 223.42 L580.67 223.44 L581.52 223.46 L582.38 223.48 L583.23 223.5 L584.08 223.51 L584.93 223.53 L585.79 223.54 L586.64 223.56 L587.49 223.57 L588.35 223.59 L589.2 223.6 L590.05 223.61 L590.91 223.63 L591.76 223.64 L592.61 223.65 L593.47 223.66 L594.32 223.67 L595.17 223.68 L596.03 223.69 L596.88 223.7 L597.73 223.71 L598.59 223.72 L599.44 223.73 L600.29 223.74 L601.15 223.75 L602 223.76 L602.85 223.76 L603.71 223.77 L604.56 223.78 L605.41 223.79 L606.27 223.79 L607.12 223.8 L607.97 223.81 L608.83 223.81 L609.68 223.82 L610.53 223.82 L611.39 223.83 L612.24 223.84 L613.09 223.84 L613.95 223.85 L614.8 223.85 L615.65 223.85 L616.51 223.86 L617.36 223.86 L618.21 223.87 L619.07 223.87 L619.92 223.88 L620.77 223.88 L621.63 223.88 L622.48 223.89 L623.33 223.89 L624.19 223.89 L625.04 223.9 L625.89 223.9 L626.75 223.9 L627.6 223.91 L628.45 223.91 L629.31 223.91 L630.16 223.92 L631.01 223.92 L631.87 223.92 L632.72 223.92 L633.57 223.93 L634.43 223.93 L635.28 223.93 L636.13 223.93 L636.99 223.93 L637.84 223.94 L638.69 223.94 L639.55 223.94 L640.4 223.94 L641.25 223.94 L642.11 223.95 L642.96 223.95 L643.81 223.95 L644.67 223.95 L645.52 223.95 L646.37 223.95 L647.23 223.95 L648.08 223.96 L648.93 223.96 L649.79 223.96 L650.64 223.96 L651.49 223.96 L652.35 223.96 L653.2 223.96 L654.05 223.96 L654.91 223.97 L655.76 223.97 L656.61 223.97 L657.47 223.97 L658.32 223.97 L659.17 223.97 L660.03 223.97 L660.88 223.97 L661.73 223.97 L662.59 223.97 L663.44 223.97 L664.29 223.97 L665.15 223.98 L666 223.98" fill="none" stroke="#0000ff" stroke-width="2" stroke-linejoin="round" stroke-linecap="round" />
</g>
<rect x="556.8" y="35.8" width="103.5" height="50.2" fill="#000"/>
<rect x="551.5" y="30.5" width="103" height="49.7" fill="#fff" stroke="#555" stroke-width="1.2"/>
<path d="M553 39.4H582.8" stroke="#000" stroke-width="2"/>
<text x="585.3" y="44" font-size="12.7" text-anchor="start" font-family="Liberation Serif" font-weight="bold" >Untreated</text>
<path d="M553 55.6H582.8" stroke="#ff0000" stroke-width="2"/>
<text x="585.3" y="60.2" font-size="12.7" text-anchor="start" font-family="Liberation Serif" font-weight="bold" >Treated #8</text>
<path d="M553 71.8H582.8" stroke="#0000ff" stroke-width="2"/>
<text x="585.3" y="76.4" font-size="12.7" text-anchor="start" font-family="Liberation Serif" font-weight="bold" >Treated #11</text>
<text x="410.2" y="18.1" font-size="27.5" text-anchor="start" font-family="Liberation Serif" font-weight="bold" >B</text>
<text x="538" y="271.3" font-size="19.5" text-anchor="middle" font-family="Liberation Serif" font-weight="bold" >Pore diameter (nm)</text>
<rect x="95.2" y="280.6" width="256.6" height="198.1" fill="none" stroke="#000" stroke-width="2.0"/>
<path d="M95.2 478.7V486.7M198.79 478.7V486.7M302.38 478.7V486.7M126.38 478.7V483.2M144.62 478.7V483.2M157.57 478.7V483.2M167.6 478.7V483.2M175.81 478.7V483.2M182.74 478.7V483.2M188.75 478.7V483.2M194.05 478.7V483.2M229.97 478.7V483.2M248.21 478.7V483.2M261.15 478.7V483.2M271.19 478.7V483.2M279.4 478.7V483.2M286.33 478.7V483.2M292.34 478.7V483.2M297.64 478.7V483.2M333.56 478.7V483.2M351.8 478.7V483.2" stroke="#000" stroke-width="2.0" fill="none"/>
<text x="95.2" y="504" font-size="17" text-anchor="middle" font-family="Liberation Serif" font-weight="bold">1</text>
<text x="198.79" y="504" font-size="17" text-anchor="middle" font-family="Liberation Serif" font-weight="bold">10</text>
<text x="302.38" y="504" font-size="17" text-anchor="middle" font-family="Liberation Serif" font-weight="bold">100</text>
<path d="M95.2 478.7H87.2M95.2 439.08H87.2M95.2 399.46H87.2M95.2 359.84H87.2M95.2 320.22H87.2M95.2 280.6H87.2M95.2 458.89H90.7M95.2 419.27H90.7M95.2 379.65H90.7M95.2 340.03H90.7M95.2 300.41H90.7" stroke="#000" stroke-width="2.0" fill="none"/>
<text x="82.7" y="484.3" font-size="17" text-anchor="end" font-family="Liberation Serif" font-weight="bold" >0.0</text>
<text x="83" y="444.68" font-size="16.3" text-anchor="end" font-family="Liberation Serif" font-weight="bold">2.0x10<tspan font-size="10" dy="-8">-5</tspan></text>
<text x="83" y="405.06" font-size="16.3" text-anchor="end" font-family="Liberation Serif" font-weight="bold">4.0x10<tspan font-size="10" dy="-8">-5</tspan></text>
<text x="83" y="365.44" font-size="16.3" text-anchor="end" font-family="Liberation Serif" font-weight="bold">6.0x10<tspan font-size="10" dy="-8">-5</tspan></text>
<text x="83" y="325.82" font-size="16.3" text-anchor="end" font-family="Liberation Serif" font-weight="bold">8.0x10<tspan font-size="10" dy="-8">-5</tspan></text>
<text x="83" y="286.2" font-size="16.3" text-anchor="end" font-family="Liberation Serif" font-weight="bold">1.0x10<tspan font-size="10" dy="-8">-4</tspan></text>
<g clip-path="url(#clipC)">
<path d="M120.21 304.42L120.69 302.08M121.93 302.2L122.17 347M123.15 347.08L125.45 332.62M174.19 343.86L176.81 351.34M180.54 362.74L184.86 377.06M188.25 388.57L193.75 407.83M198.2 418.9L200 422.3M205.63 432.89L207.77 436.91M241.87 463.82L243.53 464.48M255.01 467.76L261.59 468.94M273.46 470.69L284.74 472.01M296.65 473.45L301.35 474.05M313.3 474.85L325.8 474.95" fill="none" stroke="#333" stroke-width="1.1" stroke-linecap="butt"/>
<rect x="115" y="306.3" width="8" height="8" fill="#000" stroke="none" stroke-width="0"/>
<rect x="117.9" y="292.2" width="8" height="8" fill="#000" stroke="none" stroke-width="0"/>
<rect x="118.2" y="349" width="8" height="8" fill="#000" stroke="none" stroke-width="0"/>
<rect x="122.4" y="322.7" width="8" height="8" fill="#000" stroke="none" stroke-width="0"/>
<rect x="125.8" y="333.3" width="8" height="8" fill="#000" stroke="none" stroke-width="0"/>
<rect x="130.7" y="342.2" width="8" height="8" fill="#000" stroke="none" stroke-width="0"/>
<rect x="135.7" y="338.8" width="8" height="8" fill="#000" stroke="none" stroke-width="0"/>
<rect x="140.6" y="336.4" width="8" height="8" fill="#000" stroke="none" stroke-width="0"/>
<rect x="145.8" y="333.8" width="8" height="8" fill="#000" stroke="none" stroke-width="0"/>
<rect x="151.1" y="327.1" width="8" height="8" fill="#000" stroke="none" stroke-width="0"/>
<rect x="156.4" y="329.8" width="8" height="8" fill="#000" stroke="none" stroke-width="0"/>
<rect x="162" y="332.4" width="8" height="8" fill="#000" stroke="none" stroke-width="0"/>
<rect x="168.2" y="334.2" width="8" height="8" fill="#000" stroke="none" stroke-width="0"/>
<rect x="174.8" y="353" width="8" height="8" fill="#000" stroke="none" stroke-width="0"/>
<rect x="182.6" y="378.8" width="8" height="8" fill="#000" stroke="none" stroke-width="0"/>
<rect x="191.4" y="409.6" width="8" height="8" fill="#000" stroke="none" stroke-width="0"/>
<rect x="198.8" y="423.6" width="8" height="8" fill="#000" stroke="none" stroke-width="0"/>
<rect x="206.6" y="438.2" width="8" height="8" fill="#000" stroke="none" stroke-width="0"/>
<rect x="213.4" y="445.9" width="8" height="8" fill="#000" stroke="none" stroke-width="0"/>
<rect x="222" y="452.5" width="8" height="8" fill="#000" stroke="none" stroke-width="0"/>
<rect x="232.3" y="457.6" width="8" height="8" fill="#000" stroke="none" stroke-width="0"/>
<rect x="245.1" y="462.7" width="8" height="8" fill="#000" stroke="none" stroke-width="0"/>
<rect x="263.5" y="466" width="8" height="8" fill="#000" stroke="none" stroke-width="0"/>
<rect x="286.7" y="468.7" width="8" height="8" fill="#000" stroke="none" stroke-width="0"/>
<rect x="303.3" y="470.8" width="8" height="8" fill="#000" stroke="none" stroke-width="0"/>
<rect x="327.8" y="471" width="8" height="8" fill="#000" stroke="none" stroke-width="0"/>
<path d="M123.82 366.99L126.08 408.51M126.87 408.52L128.33 389.98M181.65 416.64L183.15 418.96M189.82 428.93L191.58 431.47M242.13 462.6L243.77 463M255.42 465.87L264.38 468.13M276.17 470.24L290.13 471.76M302.04 473.24L307.16 473.96M319.1 474.93L335.7 475.27" fill="none" stroke="#ff0000" stroke-width="1" stroke-linecap="butt"/>
<circle cx="119.2" cy="379" r="4.3" fill="#ff0000" stroke="none" stroke-width="0"/>
<circle cx="121.7" cy="373" r="4.3" fill="#ff0000" stroke="none" stroke-width="0"/>
<circle cx="123.5" cy="361" r="4.3" fill="#ff0000" stroke="none" stroke-width="0"/>
<circle cx="126.4" cy="414.5" r="4.3" fill="#ff0000" stroke="none" stroke-width="0"/>
<circle cx="128.8" cy="384" r="4.3" fill="#ff0000" stroke="none" stroke-width="0"/>
<circle cx="134.5" cy="391.5" r="4.3" fill="#ff0000" stroke="none" stroke-width="0"/>
<circle cx="140" cy="396.4" r="4.3" fill="#ff0000" stroke="none" stroke-width="0"/>
<circle cx="144.8" cy="396" r="4.3" fill="#ff0000" stroke="none" stroke-width="0"/>
<circle cx="149.2" cy="398.2" r="4.3" fill="#ff0000" stroke="none" stroke-width="0"/>
<circle cx="155" cy="397" r="4.3" fill="#ff0000" stroke="none" stroke-width="0"/>
<circle cx="160.5" cy="396" r="4.3" fill="#ff0000" stroke="none" stroke-width="0"/>
<circle cx="166" cy="394.5" r="4.3" fill="#ff0000" stroke="none" stroke-width="0"/>
<circle cx="173.3" cy="401" r="4.3" fill="#ff0000" stroke="none" stroke-width="0"/>
<circle cx="178.4" cy="411.6" r="4.3" fill="#ff0000" stroke="none" stroke-width="0"/>
<circle cx="186.4" cy="424" r="4.3" fill="#ff0000" stroke="none" stroke-width="0"/>
<circle cx="195" cy="436.4" r="4.3" fill="#ff0000" stroke="none" stroke-width="0"/>
<circle cx="203.5" cy="442.5" r="4.3" fill="#ff0000" stroke="none" stroke-width="0"/>
<circle cx="209.2" cy="451.1" r="4.3" fill="#ff0000" stroke="none" stroke-width="0"/>
<circle cx="217" cy="454.7" r="4.3" fill="#ff0000" stroke="none" stroke-width="0"/>
<circle cx="225.7" cy="456.3" r="4.3" fill="#ff0000" stroke="none" stroke-width="0"/>
<circle cx="236.3" cy="461.2" r="4.3" fill="#ff0000" stroke="none" stroke-width="0"/>
<circle cx="249.6" cy="464.4" r="4.3" fill="#ff0000" stroke="none" stroke-width="0"/>
<circle cx="270.2" cy="469.6" r="4.3" fill="#ff0000" stroke="none" stroke-width="0"/>
<circle cx="296.1" cy="472.4" r="4.3" fill="#ff0000" stroke="none" stroke-width="0"/>
<circle cx="313.1" cy="474.8" r="4.3" fill="#ff0000" stroke="none" stroke-width="0"/>
<circle cx="341.7" cy="475.4" r="4.3" fill="#ff0000" stroke="none" stroke-width="0"/>
<path d="M126.94 360.69L128.66 369.61M181.62 416.69L183.38 419.71M189.82 429.83L191.58 432.37M242.17 461.94L243.73 462.26M255.41 465L262.39 466.8M274.16 468.99L288.04 470.61M299.94 472.17L304.46 472.83M316.4 473.85L331.7 474.25" fill="none" stroke="#0000ff" stroke-width="1" stroke-linecap="butt"/>
<path d="M119.2 330.28L124.45 339.52L113.95 339.52Z" fill="#0000ff" stroke="none" stroke-width="0" stroke-linejoin="miter"/>
<path d="M121.3 340.68L126.55 349.92L116.05 349.92Z" fill="#0000ff" stroke="none" stroke-width="0" stroke-linejoin="miter"/>
<path d="M123.5 352.88L128.75 362.12L118.25 362.12Z" fill="#0000ff" stroke="none" stroke-width="0" stroke-linejoin="miter"/>
<path d="M125.8 350.18L131.05 359.42L120.55 359.42Z" fill="#0000ff" stroke="none" stroke-width="0" stroke-linejoin="miter"/>
<path d="M129.8 370.88L135.05 380.12L124.55 380.12Z" fill="#0000ff" stroke="none" stroke-width="0" stroke-linejoin="miter"/>
<path d="M134.3 382.08L139.55 391.32L129.05 391.32Z" fill="#0000ff" stroke="none" stroke-width="0" stroke-linejoin="miter"/>
<path d="M140.2 381.18L145.45 390.42L134.95 390.42Z" fill="#0000ff" stroke="none" stroke-width="0" stroke-linejoin="miter"/>
<path d="M145.2 382.68L150.45 391.92L139.95 391.92Z" fill="#0000ff" stroke="none" stroke-width="0" stroke-linejoin="miter"/>
<path d="M150 386.48L155.25 395.72L144.75 395.72Z" fill="#0000ff" stroke="none" stroke-width="0" stroke-linejoin="miter"/>
<path d="M155.3 389.18L160.55 398.42L150.05 398.42Z" fill="#0000ff" stroke="none" stroke-width="0" stroke-linejoin="miter"/>
<path d="M160.7 390.98L165.95 400.22L155.45 400.22Z" fill="#0000ff" stroke="none" stroke-width="0" stroke-linejoin="miter"/>
<path d="M166 393.58L171.25 402.82L160.75 402.82Z" fill="#0000ff" stroke="none" stroke-width="0" stroke-linejoin="miter"/>
<path d="M172.2 398.08L177.45 407.32L166.95 407.32Z" fill="#0000ff" stroke="none" stroke-width="0" stroke-linejoin="miter"/>
<path d="M178.6 406.88L183.85 416.12L173.35 416.12Z" fill="#0000ff" stroke="none" stroke-width="0" stroke-linejoin="miter"/>
<path d="M186.4 420.28L191.65 429.52L181.15 429.52Z" fill="#0000ff" stroke="none" stroke-width="0" stroke-linejoin="miter"/>
<path d="M195 432.68L200.25 441.92L189.75 441.92Z" fill="#0000ff" stroke="none" stroke-width="0" stroke-linejoin="miter"/>
<path d="M203.7 437.68L208.95 446.92L198.45 446.92Z" fill="#0000ff" stroke="none" stroke-width="0" stroke-linejoin="miter"/>
<path d="M209.2 445.08L214.45 454.32L203.95 454.32Z" fill="#0000ff" stroke="none" stroke-width="0" stroke-linejoin="miter"/>
<path d="M217 448.78L222.25 458.02L211.75 458.02Z" fill="#0000ff" stroke="none" stroke-width="0" stroke-linejoin="miter"/>
<path d="M225.7 452.38L230.95 461.62L220.45 461.62Z" fill="#0000ff" stroke="none" stroke-width="0" stroke-linejoin="miter"/>
<path d="M236.3 456.08L241.55 465.32L231.05 465.32Z" fill="#0000ff" stroke="none" stroke-width="0" stroke-linejoin="miter"/>
<path d="M249.6 458.88L254.85 468.12L244.35 468.12Z" fill="#0000ff" stroke="none" stroke-width="0" stroke-linejoin="miter"/>
<path d="M268.2 463.68L273.45 472.92L262.95 472.92Z" fill="#0000ff" stroke="none" stroke-width="0" stroke-linejoin="miter"/>
<path d="M294 466.68L299.25 475.92L288.75 475.92Z" fill="#0000ff" stroke="none" stroke-width="0" stroke-linejoin="miter"/>
<path d="M310.4 469.08L315.65 478.32L305.15 478.32Z" fill="#0000ff" stroke="none" stroke-width="0" stroke-linejoin="miter"/>
<path d="M337.7 469.78L342.95 479.02L332.45 479.02Z" fill="#0000ff" stroke="none" stroke-width="0" stroke-linejoin="miter"/>
</g>
<rect x="243.3" y="290.3" width="102.7" height="49.5" fill="#000"/>
<rect x="237.5" y="284.5" width="102.2" height="49" fill="#fff" stroke="#555" stroke-width="1.2"/>
<path d="M239.2 293.5H247.7M259.2 293.5H268.1" stroke="#555" stroke-width="1.5"/>
<rect x="249.8" y="289.9" width="8" height="8" fill="#000" stroke="none" stroke-width="0"/>
<text x="271.2" y="298.1" font-size="12.7" text-anchor="start" font-family="Liberation Serif" font-weight="bold" >Untreated</text>
<path d="M239.2 309.6H247.7M259.2 309.6H268.1" stroke="#ff3030" stroke-width="1.5"/>
<circle cx="253.8" cy="309.8" r="4.3" fill="#ff0000" stroke="none" stroke-width="0"/>
<text x="271.2" y="314.2" font-size="12.7" text-anchor="start" font-family="Liberation Serif" font-weight="bold" >Treated #8</text>
<path d="M239.2 325.7H247.7M259.2 325.7H268.1" stroke="#4040ff" stroke-width="1.5"/>
<path d="M253.6 319.88L258.85 329.12L248.35 329.12Z" fill="#0000ff" stroke="none" stroke-width="0" stroke-linejoin="miter"/>
<text x="271.2" y="330.3" font-size="12.7" text-anchor="start" font-family="Liberation Serif" font-weight="bold" >Treated #11</text>
<text x="95.5" y="272.5" font-size="27.5" text-anchor="start" font-family="Liberation Serif" font-weight="bold" >C</text>
<text x="223.5" y="525.9" font-size="19.5" text-anchor="middle" font-family="Liberation Serif" font-weight="bold" >Pore width (nm)</text>
<text transform="translate(21.8 379.8) rotate(-90)" x="0" y="0" font-size="19.5" text-anchor="middle" font-family="Liberation Serif" font-weight="bold">Volume distribution (cm<tspan font-size="11" dy="-9.6">3</tspan><tspan dy="9.6">/g)</tspan></text>
<rect x="410" y="280.6" width="256" height="198.1" fill="none" stroke="#000" stroke-width="2.0"/>
<path d="M410 478.7V486.7M446.57 478.7V486.7M483.14 478.7V486.7M519.71 478.7V486.7M556.29 478.7V486.7M592.86 478.7V486.7M629.43 478.7V486.7M666 478.7V486.7M428.29 478.7V483.2M464.86 478.7V483.2M501.43 478.7V483.2M538 478.7V483.2M574.57 478.7V483.2M611.14 478.7V483.2M647.71 478.7V483.2" stroke="#000" stroke-width="2.0" fill="none"/>
<text x="410" y="504" font-size="17" text-anchor="middle" font-family="Liberation Serif" font-weight="bold">0.4</text>
<text x="446.57" y="504" font-size="17" text-anchor="middle" font-family="Liberation Serif" font-weight="bold">0.5</text>
<text x="483.14" y="504" font-size="17" text-anchor="middle" font-family="Liberation Serif" font-weight="bold">0.6</text>
<text x="519.71" y="504" font-size="17" text-anchor="middle" font-family="Liberation Serif" font-weight="bold">0.7</text>
<text x="556.29" y="504" font-size="17" text-anchor="middle" font-family="Liberation Serif" font-weight="bold">0.8</text>
<text x="592.86" y="504" font-size="17" text-anchor="middle" font-family="Liberation Serif" font-weight="bold">0.9</text>
<text x="629.43" y="504" font-size="17" text-anchor="middle" font-family="Liberation Serif" font-weight="bold">1.0</text>
<text x="666" y="504" font-size="17" text-anchor="middle" font-family="Liberation Serif" font-weight="bold">1.1</text>
<path d="M410 478.7H402M410 434.68H402M410 390.66H402M410 346.63H402M410 302.61H402M410 456.69H405.5M410 412.67H405.5M410 368.64H405.5M410 324.62H405.5M410 280.6H405.5" stroke="#000" stroke-width="2.0" fill="none"/>
<text x="397.5" y="484.3" font-size="17" text-anchor="end" font-family="Liberation Serif" font-weight="bold">0.0</text>
<text x="397.5" y="440.28" font-size="17" text-anchor="end" font-family="Liberation Serif" font-weight="bold">0.1</text>
<text x="397.5" y="396.26" font-size="17" text-anchor="end" font-family="Liberation Serif" font-weight="bold">0.2</text>
<text x="397.5" y="352.23" font-size="17" text-anchor="end" font-family="Liberation Serif" font-weight="bold">0.3</text>
<text x="397.5" y="308.21" font-size="17" text-anchor="end" font-family="Liberation Serif" font-weight="bold">0.4</text>
<g clip-path="url(#clipD)">
<path d="M455.36 473.21L461.2 358.29M461.82 358.29L467.53 449M469.28 459.81L472.86 473.38M474.58 473.21L480.34 372.37M480.97 372.37L486.74 473.21M493.91 473.22L499.37 409.34M500.31 409.34L505.76 473.22M514.73 473.62L516.91 468.37M539.7 465.05L543.08 453.17M545.71 453.27L549.86 473.31M551.82 473.27L556.53 442.93M558.22 442.93L562.92 473.27M564.46 473.24L569.47 433.53M570.85 433.53L575.86 473.24M576.91 473.21L582.59 385.14M583.3 385.14L588.98 473.21" fill="none" stroke="#222" stroke-width="0.85" stroke-linecap="butt"/>
<rect x="444.69" y="474.7" width="8" height="8" fill="#000" stroke="none" stroke-width="0"/>
<rect x="451.09" y="474.7" width="8" height="8" fill="#000" stroke="none" stroke-width="0"/>
<rect x="457.48" y="348.8" width="8" height="8" fill="#000" stroke="none" stroke-width="0"/>
<rect x="463.87" y="450.49" width="8" height="8" fill="#000" stroke="none" stroke-width="0"/>
<rect x="470.26" y="474.7" width="8" height="8" fill="#000" stroke="none" stroke-width="0"/>
<rect x="476.66" y="362.88" width="8" height="8" fill="#000" stroke="none" stroke-width="0"/>
<rect x="483.05" y="474.7" width="8" height="8" fill="#000" stroke="none" stroke-width="0"/>
<rect x="489.44" y="474.7" width="8" height="8" fill="#000" stroke="none" stroke-width="0"/>
<rect x="495.84" y="399.86" width="8" height="8" fill="#000" stroke="none" stroke-width="0"/>
<rect x="502.23" y="474.7" width="8" height="8" fill="#000" stroke="none" stroke-width="0"/>
<rect x="508.62" y="474.7" width="8" height="8" fill="#000" stroke="none" stroke-width="0"/>
<rect x="515.02" y="459.29" width="8" height="8" fill="#000" stroke="none" stroke-width="0"/>
<rect x="521.41" y="464.57" width="8" height="8" fill="#000" stroke="none" stroke-width="0"/>
<rect x="527.8" y="465.9" width="8" height="8" fill="#000" stroke="none" stroke-width="0"/>
<rect x="534.2" y="466.34" width="8" height="8" fill="#000" stroke="none" stroke-width="0"/>
<rect x="540.59" y="443.88" width="8" height="8" fill="#000" stroke="none" stroke-width="0"/>
<rect x="546.98" y="474.7" width="8" height="8" fill="#000" stroke="none" stroke-width="0"/>
<rect x="553.37" y="433.5" width="8" height="8" fill="#000" stroke="none" stroke-width="0"/>
<rect x="559.77" y="474.7" width="8" height="8" fill="#000" stroke="none" stroke-width="0"/>
<rect x="566.16" y="424.07" width="8" height="8" fill="#000" stroke="none" stroke-width="0"/>
<rect x="572.55" y="474.7" width="8" height="8" fill="#000" stroke="none" stroke-width="0"/>
<rect x="578.95" y="375.65" width="8" height="8" fill="#000" stroke="none" stroke-width="0"/>
<rect x="585.34" y="474.7" width="8" height="8" fill="#000" stroke="none" stroke-width="0"/>
<rect x="591.73" y="474.7" width="8" height="8" fill="#000" stroke="none" stroke-width="0"/>
<rect x="598.12" y="474.7" width="8" height="8" fill="#000" stroke="none" stroke-width="0"/>
<rect x="604.52" y="474.7" width="8" height="8" fill="#000" stroke="none" stroke-width="0"/>
<rect x="610.91" y="474.7" width="8" height="8" fill="#000" stroke="none" stroke-width="0"/>
<rect x="617.3" y="474.7" width="8" height="8" fill="#000" stroke="none" stroke-width="0"/>
<rect x="623.7" y="474.7" width="8" height="8" fill="#000" stroke="none" stroke-width="0"/>
<rect x="630.09" y="474.7" width="8" height="8" fill="#000" stroke="none" stroke-width="0"/>
<rect x="636.48" y="474.7" width="8" height="8" fill="#000" stroke="none" stroke-width="0"/>
<rect x="642.88" y="474.7" width="8" height="8" fill="#000" stroke="none" stroke-width="0"/>
<rect x="649.27" y="474.7" width="8" height="8" fill="#000" stroke="none" stroke-width="0"/>
<rect x="655.66" y="474.7" width="8" height="8" fill="#000" stroke="none" stroke-width="0"/>
<rect x="662.06" y="474.7" width="8" height="8" fill="#000" stroke="none" stroke-width="0"/>
<path d="M442.92 473.23L448.08 427.38M449.31 427.38L454.47 473.23M455.31 473.2L461.26 326.16M461.7 326.16L467.65 473.2M474.53 473.21L480.39 352.57M480.92 352.57L486.78 473.21M493.94 473.22L499.34 413.74M500.33 413.74L505.73 473.22M514.1 473.4L517.54 461.11M520.89 460.98L523.53 468.25M539.88 464.22L542.9 454.88M545.77 455.02L549.8 473.33M551.64 473.24L556.71 431.55M558.04 431.55L563.1 473.24M564.88 473.31L569.05 453.01M571.27 453.01L575.44 473.31M576.83 473.21L582.67 355.21M583.22 355.21L589.07 473.21" fill="none" stroke="#ff0000" stroke-width="0.85" stroke-linecap="butt"/>
<circle cx="442.3" cy="478.7" r="4.3" fill="#ff0000" stroke="none" stroke-width="0"/>
<circle cx="448.69" cy="421.91" r="4.3" fill="#ff0000" stroke="none" stroke-width="0"/>
<circle cx="455.09" cy="478.7" r="4.3" fill="#ff0000" stroke="none" stroke-width="0"/>
<circle cx="461.48" cy="320.66" r="4.3" fill="#ff0000" stroke="none" stroke-width="0"/>
<circle cx="467.87" cy="478.7" r="4.3" fill="#ff0000" stroke="none" stroke-width="0"/>
<circle cx="474.26" cy="478.7" r="4.3" fill="#ff0000" stroke="none" stroke-width="0"/>
<circle cx="480.66" cy="347.07" r="4.3" fill="#ff0000" stroke="none" stroke-width="0"/>
<circle cx="487.05" cy="478.7" r="4.3" fill="#ff0000" stroke="none" stroke-width="0"/>
<circle cx="493.44" cy="478.7" r="4.3" fill="#ff0000" stroke="none" stroke-width="0"/>
<circle cx="499.84" cy="408.26" r="4.3" fill="#ff0000" stroke="none" stroke-width="0"/>
<circle cx="506.23" cy="478.7" r="4.3" fill="#ff0000" stroke="none" stroke-width="0"/>
<circle cx="512.62" cy="478.7" r="4.3" fill="#ff0000" stroke="none" stroke-width="0"/>
<circle cx="519.02" cy="455.81" r="4.3" fill="#ff0000" stroke="none" stroke-width="0"/>
<circle cx="525.41" cy="473.42" r="4.3" fill="#ff0000" stroke="none" stroke-width="0"/>
<circle cx="531.8" cy="465.49" r="4.3" fill="#ff0000" stroke="none" stroke-width="0"/>
<circle cx="538.2" cy="469.46" r="4.3" fill="#ff0000" stroke="none" stroke-width="0"/>
<circle cx="544.59" cy="449.65" r="4.3" fill="#ff0000" stroke="none" stroke-width="0"/>
<circle cx="550.98" cy="478.7" r="4.3" fill="#ff0000" stroke="none" stroke-width="0"/>
<circle cx="557.37" cy="426.09" r="4.3" fill="#ff0000" stroke="none" stroke-width="0"/>
<circle cx="563.77" cy="478.7" r="4.3" fill="#ff0000" stroke="none" stroke-width="0"/>
<circle cx="570.16" cy="447.62" r="4.3" fill="#ff0000" stroke="none" stroke-width="0"/>
<circle cx="576.55" cy="478.7" r="4.3" fill="#ff0000" stroke="none" stroke-width="0"/>
<circle cx="582.95" cy="349.71" r="4.3" fill="#ff0000" stroke="none" stroke-width="0"/>
<circle cx="589.34" cy="478.7" r="4.3" fill="#ff0000" stroke="none" stroke-width="0"/>
<circle cx="595.73" cy="478.7" r="4.3" fill="#ff0000" stroke="none" stroke-width="0"/>
<circle cx="602.12" cy="478.7" r="4.3" fill="#ff0000" stroke="none" stroke-width="0"/>
<circle cx="608.52" cy="478.7" r="4.3" fill="#ff0000" stroke="none" stroke-width="0"/>
<circle cx="614.91" cy="478.7" r="4.3" fill="#ff0000" stroke="none" stroke-width="0"/>
<circle cx="621.3" cy="478.7" r="4.3" fill="#ff0000" stroke="none" stroke-width="0"/>
<circle cx="627.7" cy="478.7" r="4.3" fill="#ff0000" stroke="none" stroke-width="0"/>
<circle cx="634.09" cy="478.7" r="4.3" fill="#ff0000" stroke="none" stroke-width="0"/>
<circle cx="640.48" cy="478.7" r="4.3" fill="#ff0000" stroke="none" stroke-width="0"/>
<circle cx="646.88" cy="478.7" r="4.3" fill="#ff0000" stroke="none" stroke-width="0"/>
<circle cx="653.27" cy="478.7" r="4.3" fill="#ff0000" stroke="none" stroke-width="0"/>
<circle cx="659.66" cy="478.7" r="4.3" fill="#ff0000" stroke="none" stroke-width="0"/>
<circle cx="666.06" cy="478.7" r="4.3" fill="#ff0000" stroke="none" stroke-width="0"/>
<path d="M455.34 473.21L461.22 346.45M461.73 346.45L467.62 473.21M468.19 473.21L473.95 373.83M474.58 373.83L480.34 473.21M487.4 473.21L493.1 383.16M493.79 383.16L499.49 473.21M513.8 473.33L517.83 455.02M520.27 455L524.15 471.58M540.41 459.8L542.37 455.34M545.8 455.67L549.77 473.33M551.84 473.27L556.52 443.59M558.23 443.59L562.91 473.27M564.24 473.22L569.68 410.44M570.64 410.44L576.08 473.22M583.3 473.21L588.98 386.02M589.7 386.02L595.37 473.21" fill="none" stroke="#0000ff" stroke-width="0.85" stroke-linecap="butt"/>
<path d="M448.69 472.54L453.94 481.78L443.44 481.78Z" fill="#0000ff" stroke="none" stroke-width="0" stroke-linejoin="miter"/>
<path d="M455.09 472.54L460.34 481.78L449.84 481.78Z" fill="#0000ff" stroke="none" stroke-width="0" stroke-linejoin="miter"/>
<path d="M461.48 334.79L466.73 344.03L456.23 344.03Z" fill="#0000ff" stroke="none" stroke-width="0" stroke-linejoin="miter"/>
<path d="M467.87 472.54L473.12 481.78L462.62 481.78Z" fill="#0000ff" stroke="none" stroke-width="0" stroke-linejoin="miter"/>
<path d="M474.26 362.18L479.51 371.42L469.01 371.42Z" fill="#0000ff" stroke="none" stroke-width="0" stroke-linejoin="miter"/>
<path d="M480.66 472.54L485.91 481.78L475.41 481.78Z" fill="#0000ff" stroke="none" stroke-width="0" stroke-linejoin="miter"/>
<path d="M487.05 472.54L492.3 481.78L481.8 481.78Z" fill="#0000ff" stroke="none" stroke-width="0" stroke-linejoin="miter"/>
<path d="M493.44 371.51L498.69 380.75L488.19 380.75Z" fill="#0000ff" stroke="none" stroke-width="0" stroke-linejoin="miter"/>
<path d="M499.84 472.54L505.09 481.78L494.59 481.78Z" fill="#0000ff" stroke="none" stroke-width="0" stroke-linejoin="miter"/>
<path d="M506.23 463.96L511.48 473.2L500.98 473.2Z" fill="#0000ff" stroke="none" stroke-width="0" stroke-linejoin="miter"/>
<path d="M512.62 472.54L517.87 481.78L507.37 481.78Z" fill="#0000ff" stroke="none" stroke-width="0" stroke-linejoin="miter"/>
<path d="M519.02 443.49L524.27 452.73L513.77 452.73Z" fill="#0000ff" stroke="none" stroke-width="0" stroke-linejoin="miter"/>
<path d="M525.41 470.78L530.66 480.02L520.16 480.02Z" fill="#0000ff" stroke="none" stroke-width="0" stroke-linejoin="miter"/>
<path d="M531.8 463.08L537.05 472.32L526.55 472.32Z" fill="#0000ff" stroke="none" stroke-width="0" stroke-linejoin="miter"/>
<path d="M538.2 458.67L543.45 467.91L532.95 467.91Z" fill="#0000ff" stroke="none" stroke-width="0" stroke-linejoin="miter"/>
<path d="M544.59 444.15L549.84 453.39L539.34 453.39Z" fill="#0000ff" stroke="none" stroke-width="0" stroke-linejoin="miter"/>
<path d="M550.98 472.54L556.23 481.78L545.73 481.78Z" fill="#0000ff" stroke="none" stroke-width="0" stroke-linejoin="miter"/>
<path d="M557.37 432L562.62 441.24L552.12 441.24Z" fill="#0000ff" stroke="none" stroke-width="0" stroke-linejoin="miter"/>
<path d="M563.77 472.54L569.02 481.78L558.52 481.78Z" fill="#0000ff" stroke="none" stroke-width="0" stroke-linejoin="miter"/>
<path d="M570.16 398.8L575.41 408.04L564.91 408.04Z" fill="#0000ff" stroke="none" stroke-width="0" stroke-linejoin="miter"/>
<path d="M576.55 472.54L581.8 481.78L571.3 481.78Z" fill="#0000ff" stroke="none" stroke-width="0" stroke-linejoin="miter"/>
<path d="M582.95 472.54L588.2 481.78L577.7 481.78Z" fill="#0000ff" stroke="none" stroke-width="0" stroke-linejoin="miter"/>
<path d="M589.34 374.37L594.59 383.61L584.09 383.61Z" fill="#0000ff" stroke="none" stroke-width="0" stroke-linejoin="miter"/>
<path d="M595.73 472.54L600.98 481.78L590.48 481.78Z" fill="#0000ff" stroke="none" stroke-width="0" stroke-linejoin="miter"/>
<path d="M602.12 472.54L607.38 481.78L596.88 481.78Z" fill="#0000ff" stroke="none" stroke-width="0" stroke-linejoin="miter"/>
<path d="M608.52 472.54L613.77 481.78L603.27 481.78Z" fill="#0000ff" stroke="none" stroke-width="0" stroke-linejoin="miter"/>
<path d="M614.91 472.54L620.16 481.78L609.66 481.78Z" fill="#0000ff" stroke="none" stroke-width="0" stroke-linejoin="miter"/>
<path d="M621.3 472.54L626.55 481.78L616.05 481.78Z" fill="#0000ff" stroke="none" stroke-width="0" stroke-linejoin="miter"/>
<path d="M627.7 472.54L632.95 481.78L622.45 481.78Z" fill="#0000ff" stroke="none" stroke-width="0" stroke-linejoin="miter"/>
<path d="M634.09 472.54L639.34 481.78L628.84 481.78Z" fill="#0000ff" stroke="none" stroke-width="0" stroke-linejoin="miter"/>
<path d="M640.48 472.54L645.73 481.78L635.23 481.78Z" fill="#0000ff" stroke="none" stroke-width="0" stroke-linejoin="miter"/>
<path d="M646.88 472.54L652.13 481.78L641.63 481.78Z" fill="#0000ff" stroke="none" stroke-width="0" stroke-linejoin="miter"/>
<path d="M653.27 472.54L658.52 481.78L648.02 481.78Z" fill="#0000ff" stroke="none" stroke-width="0" stroke-linejoin="miter"/>
<path d="M659.66 472.54L664.91 481.78L654.41 481.78Z" fill="#0000ff" stroke="none" stroke-width="0" stroke-linejoin="miter"/>
</g>
<rect x="557.5" y="290.1" width="103.5" height="50.2" fill="#000"/>
<rect x="552" y="284.6" width="103" height="49.7" fill="#fff" stroke="#555" stroke-width="1.2"/>
<path d="M554.1 294H562.4M574.1 294H583" stroke="#808080" stroke-width="1.7"/>
<rect x="564.4" y="290.3" width="8" height="8" fill="#000" stroke="none" stroke-width="0"/>
<text x="585.8" y="298.6" font-size="12.7" text-anchor="start" font-family="Liberation Serif" font-weight="bold" >Untreated</text>
<path d="M554.1 310.2H562.4M574.1 310.2H583" stroke="#ff8080" stroke-width="1.7"/>
<circle cx="568.3" cy="310.4" r="4.3" fill="#ff0000" stroke="none" stroke-width="0"/>
<text x="585.8" y="314.8" font-size="12.7" text-anchor="start" font-family="Liberation Serif" font-weight="bold" >Treated #8</text>
<path d="M554.1 326.4H562.4M574.1 326.4H583" stroke="#7070ff" stroke-width="1.7"/>
<path d="M568.3 320.68L573.55 329.92L563.05 329.92Z" fill="#0000ff" stroke="none" stroke-width="0" stroke-linejoin="miter"/>
<text x="585.8" y="331" font-size="12.7" text-anchor="start" font-family="Liberation Serif" font-weight="bold" >Treated #11</text>
<text x="409.5" y="272.5" font-size="27.5" text-anchor="start" font-family="Liberation Serif" font-weight="bold" >D</text>
<text x="538" y="527.6" font-size="19.5" text-anchor="middle" font-family="Liberation Serif" font-weight="bold" >Pore width (nm)</text>
<rect x="95.2" y="534.9" width="256.6" height="198.1" fill="none" stroke="#000" stroke-width="2.0"/>
<path d="M95.2 733V741M146.52 733V741M197.84 733V741M249.16 733V741M300.48 733V741M351.8 733V741M120.86 733V737.5M172.18 733V737.5M223.5 733V737.5M274.82 733V737.5M326.14 733V737.5" stroke="#000" stroke-width="2.0" fill="none"/>
<text x="95.2" y="758.3" font-size="17" text-anchor="middle" font-family="Liberation Serif" font-weight="bold">0</text>
<text x="146.52" y="758.3" font-size="17" text-anchor="middle" font-family="Liberation Serif" font-weight="bold">200</text>
<text x="197.84" y="758.3" font-size="17" text-anchor="middle" font-family="Liberation Serif" font-weight="bold">400</text>
<text x="249.16" y="758.3" font-size="17" text-anchor="middle" font-family="Liberation Serif" font-weight="bold">600</text>
<text x="300.48" y="758.3" font-size="17" text-anchor="middle" font-family="Liberation Serif" font-weight="bold">800</text>
<text x="351.8" y="758.3" font-size="17" text-anchor="middle" font-family="Liberation Serif" font-weight="bold">1000</text>
<path d="M95.2 733H87.2M95.2 683.48H87.2M95.2 633.95H87.2M95.2 584.42H87.2M95.2 534.9H87.2M95.2 708.24H90.7M95.2 658.71H90.7M95.2 609.19H90.7M95.2 559.66H90.7" stroke="#000" stroke-width="2.0" fill="none"/>
<text x="82.7" y="738.6" font-size="17" text-anchor="end" font-family="Liberation Serif" font-weight="bold">0</text>
<text x="82.7" y="689.08" font-size="17" text-anchor="end" font-family="Liberation Serif" font-weight="bold">100</text>
<text x="82.7" y="639.55" font-size="17" text-anchor="end" font-family="Liberation Serif" font-weight="bold">200</text>
<text x="82.7" y="590.02" font-size="17" text-anchor="end" font-family="Liberation Serif" font-weight="bold">300</text>
<text x="82.7" y="540.5" font-size="17" text-anchor="end" font-family="Liberation Serif" font-weight="bold">400</text>
<g clip-path="url(#clipE)">
<path d="M95.2 733 L95.96 730.89 L96.72 729.06 L97.48 727.35 L98.24 725.71 L99 724.14 L99.76 722.61 L100.52 721.13 L101.28 719.69 L102.04 718.29 L102.8 716.91 L103.56 715.57 L104.32 714.25 L105.09 712.96 L105.85 711.7 L106.61 710.46 L107.37 709.24 L108.13 708.04 L108.89 706.86 L109.65 705.71 L110.41 704.57 L111.17 703.45 L111.93 702.35 L112.69 701.26 L113.45 700.19 L114.21 699.14 L114.97 698.1 L115.73 697.08 L116.49 696.07 L117.25 695.07 L118.01 694.09 L118.77 693.12 L119.53 692.17 L120.29 691.23 L121.05 690.29 L121.81 689.38 L122.57 688.47 L123.33 687.57 L124.09 686.69 L124.86 685.82 L125.62 684.95 L126.38 684.1 L127.14 683.26 L127.9 682.42 L128.66 681.6 L129.42 680.79 L130.18 679.98 L130.94 679.19 L131.7 678.4 L132.46 677.62 L133.22 676.85 L133.98 676.09 L134.74 675.34 L135.5 674.59 L136.26 673.86 L137.02 673.13 L137.78 672.41 L138.54 671.69 L139.3 670.99 L140.06 670.29 L140.82 669.6 L141.58 668.91 L142.34 668.23 L143.1 667.56 L143.87 666.9 L144.63 666.24 L145.39 665.58 L146.15 664.94 L146.91 664.3 L147.67 663.67 L148.43 663.04 L149.19 662.42 L149.95 661.8 L150.71 661.19 L151.47 660.58 L152.23 659.99 L152.99 659.39 L153.75 658.8 L154.51 658.22 L155.27 657.64 L156.03 657.07 L156.79 656.5 L157.55 655.94 L158.31 655.38 L159.07 654.83 L159.83 654.28 L160.59 653.74 L161.35 653.2 L162.11 652.66 L162.87 652.13 L163.64 651.61 L164.4 651.09 L165.16 650.57 L165.92 650.06 L166.68 649.55 L167.44 649.05 L168.2 648.55 L168.96 648.05 L169.72 647.56 L170.48 647.07 L171.24 646.59 L172 646.11 L172.76 645.63 L173.52 645.16 L174.28 644.69 L175.04 644.22 L175.8 643.76 L176.56 643.3 L177.32 642.85 L178.08 642.4 L178.84 641.95 L179.6 641.5 L180.36 641.06 L181.12 640.63 L181.88 640.19 L182.65 639.76 L183.41 639.33 L184.17 638.91 L184.93 638.48 L185.69 638.06 L186.45 637.65 L187.21 637.24 L187.97 636.83 L188.73 636.42 L189.49 636.01 L190.25 635.61 L191.01 635.21 L191.77 634.82 L192.53 634.43 L193.29 634.04 L194.05 633.65 L194.81 633.26 L195.57 632.88 L196.33 632.5 L197.09 632.12 L197.85 631.75 L198.61 631.38 L199.37 631.01 L200.13 630.64 L200.89 630.28 L201.65 629.91 L202.42 629.56 L203.18 629.2 L203.94 628.84 L204.7 628.49 L205.46 628.14 L206.22 627.79 L206.98 627.45 L207.74 627.1 L208.5 626.76 L209.26 626.42 L210.02 626.08 L210.78 625.75 L211.54 625.42 L212.3 625.09 L213.06 624.76 L213.82 624.43 L214.58 624.11 L215.34 623.78 L216.1 623.46 L216.86 623.15 L217.62 622.83 L218.38 622.51 L219.14 622.2 L219.9 621.89 L220.66 621.58 L221.42 621.27 L222.19 620.97 L222.95 620.67 L223.71 620.36 L224.47 620.06 L225.23 619.77 L225.99 619.47 L226.75 619.18 L227.51 618.88 L228.27 618.59 L229.03 618.3 L229.79 618.01 L230.55 617.73 L231.31 617.44 L232.07 617.16 L232.83 616.88 L233.59 616.6 L234.35 616.32 L235.11 616.05 L235.87 615.77 L236.63 615.5 L237.39 615.23 L238.15 614.96 L238.91 614.69 L239.67 614.42 L240.43 614.15 L241.2 613.89 L241.96 613.63 L242.72 613.37 L243.48 613.11 L244.24 612.85 L245 612.59 L245.76 612.33 L246.52 612.08 L247.28 611.83 L248.04 611.58 L248.8 611.32 L249.56 611.08 L250.32 610.83 L251.08 610.58 L251.84 610.34 L252.6 610.09 L253.36 609.85 L254.12 609.61 L254.88 609.37 L255.64 609.13 L256.4 608.89 L257.16 608.66 L257.92 608.42 L258.68 608.19 L259.44 607.96 L260.2 607.73 L260.97 607.49 L261.73 607.27 L262.49 607.04 L263.25 606.81 L264.01 606.59 L264.77 606.36 L265.53 606.14 L266.29 605.92 L267.05 605.7 L267.81 605.48 L268.57 605.26 L269.33 605.04 L270.09 604.82 L270.85 604.61 L271.61 604.39 L272.37 604.18 L273.13 603.97 L273.89 603.75 L274.65 603.54 L275.41 603.33 L276.17 603.13 L276.93 602.92 L277.69 602.71 L278.45 602.51 L279.21 602.3 L279.98 602.1 L280.74 601.9 L281.5 601.69 L282.26 601.49 L283.02 601.29 L283.78 601.1 L284.54 600.9 L285.3 600.7 L286.06 600.51 L286.82 600.31 L287.58 600.12 L288.34 599.92 L289.1 599.73 L289.86 599.54 L290.62 599.35 L291.38 599.16 L292.14 598.97 L292.9 598.78 L293.66 598.59 L294.42 598.41 L295.18 598.22 L295.94 598.04 L296.7 597.85 L297.46 597.67 L298.22 597.49 L298.98 597.31 L299.75 597.13 L300.51 596.95 L301.27 596.77 L302.03 596.59 L302.79 596.41 L303.55 596.24 L304.31 596.06 L305.07 595.89 L305.83 595.71 L306.59 595.54 L307.35 595.37 L308.11 595.19 L308.87 595.02 L309.63 594.85 L310.39 594.68 L311.15 594.51 L311.91 594.35 L312.67 594.18 L313.43 594.01 L314.19 593.84 L314.95 593.68 L315.71 593.51 L316.47 593.35 L317.23 593.19 L317.99 593.02 L318.76 592.86 L319.52 592.7 L320.28 592.54 L321.04 592.38 L321.8 592.22 L322.56 592.06 L323.32 591.9" fill="none" stroke="#000" stroke-width="2" stroke-linejoin="round" stroke-linecap="round" />
<path d="M95.2 733 L95.93 730.93 L96.66 729.03 L97.39 727.21 L98.12 725.45 L98.85 723.73 L99.58 722.06 L100.31 720.42 L101.04 718.82 L101.77 717.25 L102.5 715.72 L103.23 714.21 L103.96 712.73 L104.68 711.27 L105.41 709.84 L106.14 708.44 L106.87 707.05 L107.6 705.69 L108.33 704.35 L109.06 703.04 L109.79 701.74 L110.52 700.46 L111.25 699.2 L111.98 697.96 L112.71 696.74 L113.44 695.53 L114.17 694.34 L114.9 693.17 L115.63 692.02 L116.36 690.88 L117.09 689.75 L117.82 688.64 L118.55 687.55 L119.28 686.47 L120.01 685.4 L120.74 684.35 L121.47 683.31 L122.2 682.28 L122.92 681.26 L123.65 680.26 L124.38 679.27 L125.11 678.3 L125.84 677.33 L126.57 676.38 L127.3 675.43 L128.03 674.5 L128.76 673.58 L129.49 672.67 L130.22 671.77 L130.95 670.88 L131.68 670 L132.41 669.13 L133.14 668.27 L133.87 667.42 L134.6 666.58 L135.33 665.75 L136.06 664.92 L136.79 664.11 L137.52 663.3 L138.25 662.51 L138.98 661.72 L139.71 660.94 L140.44 660.16 L141.16 659.4 L141.89 658.64 L142.62 657.89 L143.35 657.15 L144.08 656.42 L144.81 655.69 L145.54 654.97 L146.27 654.26 L147 653.55 L147.73 652.86 L148.46 652.16 L149.19 651.48 L149.92 650.8 L150.65 650.13 L151.38 649.46 L152.11 648.8 L152.84 648.15 L153.57 647.51 L154.3 646.86 L155.03 646.23 L155.76 645.6 L156.49 644.98 L157.22 644.36 L157.95 643.75 L158.68 643.14 L159.4 642.54 L160.13 641.94 L160.86 641.35 L161.59 640.77 L162.32 640.19 L163.05 639.61 L163.78 639.04 L164.51 638.48 L165.24 637.92 L165.97 637.36 L166.7 636.81 L167.43 636.26 L168.16 635.72 L168.89 635.19 L169.62 634.65 L170.35 634.13 L171.08 633.6 L171.81 633.08 L172.54 632.57 L173.27 632.06 L174 631.55 L174.73 631.05 L175.46 630.55 L176.19 630.05 L176.92 629.56 L177.64 629.08 L178.37 628.59 L179.1 628.11 L179.83 627.64 L180.56 627.17 L181.29 626.7 L182.02 626.23 L182.75 625.77 L183.48 625.32 L184.21 624.86 L184.94 624.41 L185.67 623.96 L186.4 623.52 L187.13 623.08 L187.86 622.64 L188.59 622.21 L189.32 621.78 L190.05 621.35 L190.78 620.93 L191.51 620.51 L192.24 620.09 L192.97 619.67 L193.7 619.26 L194.43 618.85 L195.16 618.45 L195.88 618.04 L196.61 617.64 L197.34 617.25 L198.07 616.85 L198.8 616.46 L199.53 616.07 L200.26 615.68 L200.99 615.3 L201.72 614.92 L202.45 614.54 L203.18 614.17 L203.91 613.79 L204.64 613.42 L205.37 613.05 L206.1 612.69 L206.83 612.33 L207.56 611.96 L208.29 611.61 L209.02 611.25 L209.75 610.9 L210.48 610.55 L211.21 610.2 L211.94 609.85 L212.67 609.51 L213.4 609.16 L214.12 608.82 L214.85 608.49 L215.58 608.15 L216.31 607.82 L217.04 607.49 L217.77 607.16 L218.5 606.83 L219.23 606.51 L219.96 606.18 L220.69 605.86 L221.42 605.55 L222.15 605.23 L222.88 604.91 L223.61 604.6 L224.34 604.29 L225.07 603.98 L225.8 603.67 L226.53 603.37 L227.26 603.07 L227.99 602.76 L228.72 602.47 L229.45 602.17 L230.18 601.87 L230.91 601.58 L231.64 601.29 L232.36 600.99 L233.09 600.71 L233.82 600.42 L234.55 600.13 L235.28 599.85 L236.01 599.57 L236.74 599.29 L237.47 599.01 L238.2 598.73 L238.93 598.46 L239.66 598.18 L240.39 597.91 L241.12 597.64 L241.85 597.37 L242.58 597.1 L243.31 596.84 L244.04 596.57 L244.77 596.31 L245.5 596.05 L246.23 595.79 L246.96 595.53 L247.69 595.27 L248.42 595.02 L249.15 594.76 L249.88 594.51 L250.6 594.26 L251.33 594.01 L252.06 593.76 L252.79 593.51 L253.52 593.26 L254.25 593.02 L254.98 592.78 L255.71 592.53 L256.44 592.29 L257.17 592.05 L257.9 591.82 L258.63 591.58 L259.36 591.34 L260.09 591.11 L260.82 590.88 L261.55 590.64 L262.28 590.41 L263.01 590.18 L263.74 589.96 L264.47 589.73 L265.2 589.5 L265.93 589.28 L266.66 589.05 L267.39 588.83 L268.12 588.61 L268.84 588.39 L269.57 588.17 L270.3 587.95 L271.03 587.74 L271.76 587.52 L272.49 587.31 L273.22 587.1 L273.95 586.88 L274.68 586.67 L275.41 586.46 L276.14 586.25 L276.87 586.04 L277.6 585.84 L278.33 585.63 L279.06 585.43 L279.79 585.22 L280.52 585.02 L281.25 584.82 L281.98 584.62 L282.71 584.42 L283.44 584.22 L284.17 584.02 L284.9 583.82 L285.63 583.63 L286.36 583.43 L287.08 583.24 L287.81 583.05 L288.54 582.85 L289.27 582.66 L290 582.47 L290.73 582.28 L291.46 582.09 L292.19 581.91 L292.92 581.72 L293.65 581.53 L294.38 581.35 L295.11 581.16 L295.84 580.98 L296.57 580.8 L297.3 580.62 L298.03 580.44 L298.76 580.26 L299.49 580.08 L300.22 579.9 L300.95 579.72 L301.68 579.54 L302.41 579.37 L303.14 579.19 L303.87 579.02 L304.6 578.85 L305.32 578.67 L306.05 578.5 L306.78 578.33 L307.51 578.16 L308.24 577.99 L308.97 577.82 L309.7 577.65 L310.43 577.49 L311.16 577.32 L311.89 577.15 L312.62 576.99 L313.35 576.82 L314.08 576.66" fill="none" stroke="#ff0000" stroke-width="2" stroke-linejoin="round" stroke-linecap="round" />
<path d="M95.2 733 L95.94 731 L96.67 729.04 L97.41 727.13 L98.15 725.25 L98.89 723.42 L99.62 721.62 L100.36 719.86 L101.1 718.13 L101.83 716.44 L102.57 714.78 L103.31 713.16 L104.04 711.56 L104.78 710 L105.52 708.47 L106.26 706.96 L106.99 705.48 L107.73 704.04 L108.47 702.61 L109.2 701.22 L109.94 699.84 L110.68 698.5 L111.41 697.17 L112.15 695.87 L112.89 694.59 L113.63 693.34 L114.36 692.1 L115.1 690.89 L115.84 689.7 L116.57 688.52 L117.31 687.37 L118.05 686.24 L118.79 685.12 L119.52 684.02 L120.26 682.94 L121 681.88 L121.73 680.83 L122.47 679.8 L123.21 678.78 L123.94 677.78 L124.68 676.8 L125.42 675.83 L126.16 674.88 L126.89 673.94 L127.63 673.01 L128.37 672.1 L129.1 671.2 L129.84 670.31 L130.58 669.44 L131.31 668.58 L132.05 667.73 L132.79 666.89 L133.53 666.07 L134.26 665.25 L135 664.45 L135.74 663.66 L136.47 662.88 L137.21 662.11 L137.95 661.35 L138.69 660.6 L139.42 659.86 L140.16 659.13 L140.9 658.4 L141.63 657.69 L142.37 656.99 L143.11 656.3 L143.84 655.61 L144.58 654.94 L145.32 654.27 L146.06 653.61 L146.79 652.96 L147.53 652.32 L148.27 651.68 L149 651.06 L149.74 650.44 L150.48 649.82 L151.22 649.22 L151.95 648.62 L152.69 648.03 L153.43 647.45 L154.16 646.87 L154.9 646.3 L155.64 645.74 L156.37 645.18 L157.11 644.63 L157.85 644.09 L158.59 643.55 L159.32 643.01 L160.06 642.49 L160.8 641.97 L161.53 641.45 L162.27 640.94 L163.01 640.44 L163.74 639.94 L164.48 639.45 L165.22 638.96 L165.96 638.48 L166.69 638 L167.43 637.53 L168.17 637.07 L168.9 636.6 L169.64 636.15 L170.38 635.69 L171.12 635.25 L171.85 634.8 L172.59 634.36 L173.33 633.93 L174.06 633.5 L174.8 633.07 L175.54 632.65 L176.27 632.24 L177.01 631.82 L177.75 631.41 L178.49 631.01 L179.22 630.61 L179.96 630.21 L180.7 629.82 L181.43 629.43 L182.17 629.04 L182.91 628.66 L183.64 628.28 L184.38 627.91 L185.12 627.53 L185.86 627.17 L186.59 626.8 L187.33 626.44 L188.07 626.08 L188.8 625.73 L189.54 625.38 L190.28 625.03 L191.02 624.68 L191.75 624.34 L192.49 624 L193.23 623.67 L193.96 623.34 L194.7 623.01 L195.44 622.68 L196.17 622.35 L196.91 622.03 L197.65 621.71 L198.39 621.4 L199.12 621.09 L199.86 620.78 L200.6 620.47 L201.33 620.16 L202.07 619.86 L202.81 619.56 L203.54 619.26 L204.28 618.97 L205.02 618.68 L205.76 618.39 L206.49 618.1 L207.23 617.81 L207.97 617.53 L208.7 617.25 L209.44 616.97 L210.18 616.7 L210.92 616.42 L211.65 616.15 L212.39 615.88 L213.13 615.61 L213.86 615.35 L214.6 615.08 L215.34 614.82 L216.07 614.56 L216.81 614.31 L217.55 614.05 L218.29 613.8 L219.02 613.55 L219.76 613.3 L220.5 613.05 L221.23 612.81 L221.97 612.56 L222.71 612.32 L223.45 612.08 L224.18 611.84 L224.92 611.61 L225.66 611.37 L226.39 611.14 L227.13 610.91 L227.87 610.68 L228.6 610.45 L229.34 610.23 L230.08 610 L230.82 609.78 L231.55 609.56 L232.29 609.34 L233.03 609.12 L233.76 608.91 L234.5 608.69 L235.24 608.48 L235.97 608.27 L236.71 608.06 L237.45 607.85 L238.19 607.64 L238.92 607.43 L239.66 607.23 L240.4 607.03 L241.13 606.82 L241.87 606.62 L242.61 606.43 L243.35 606.23 L244.08 606.03 L244.82 605.84 L245.56 605.64 L246.29 605.45 L247.03 605.26 L247.77 605.07 L248.5 604.88 L249.24 604.7 L249.98 604.51 L250.72 604.33 L251.45 604.14 L252.19 603.96 L252.93 603.78 L253.66 603.6 L254.4 603.42 L255.14 603.24 L255.87 603.07 L256.61 602.89 L257.35 602.72 L258.09 602.54 L258.82 602.37 L259.56 602.2 L260.3 602.03 L261.03 601.86 L261.77 601.7 L262.51 601.53 L263.25 601.36 L263.98 601.2 L264.72 601.04 L265.46 600.87 L266.19 600.71 L266.93 600.55 L267.67 600.39 L268.4 600.24 L269.14 600.08 L269.88 599.92 L270.62 599.77 L271.35 599.61 L272.09 599.46 L272.83 599.31 L273.56 599.15 L274.3 599 L275.04 598.85 L275.77 598.7 L276.51 598.56 L277.25 598.41 L277.99 598.26 L278.72 598.12 L279.46 597.97 L280.2 597.83 L280.93 597.68 L281.67 597.54 L282.41 597.4 L283.15 597.26 L283.88 597.12 L284.62 596.98 L285.36 596.84 L286.09 596.71 L286.83 596.57 L287.57 596.43 L288.3 596.3 L289.04 596.16 L289.78 596.03 L290.52 595.9 L291.25 595.77 L291.99 595.63 L292.73 595.5 L293.46 595.37 L294.2 595.24 L294.94 595.12 L295.68 594.99 L296.41 594.86 L297.15 594.74 L297.89 594.61 L298.62 594.49 L299.36 594.36 L300.1 594.24 L300.83 594.11 L301.57 593.99 L302.31 593.87 L303.05 593.75 L303.78 593.63 L304.52 593.51 L305.26 593.39 L305.99 593.27 L306.73 593.15 L307.47 593.04 L308.2 592.92 L308.94 592.8 L309.68 592.69 L310.42 592.57 L311.15 592.46 L311.89 592.35 L312.63 592.23 L313.36 592.12 L314.1 592.01 L314.84 591.9 L315.58 591.79 L316.31 591.68" fill="none" stroke="#0000ff" stroke-width="2" stroke-linejoin="round" stroke-linecap="round" />
<rect x="91.6" y="729.4" width="7.2" height="7.2" fill="none" stroke="#000" stroke-width="1.4"/>
<rect x="138.1" y="667.2" width="7.2" height="7.2" fill="none" stroke="#000" stroke-width="1.4"/>
<rect x="182.9" y="634.11" width="7.2" height="7.2" fill="none" stroke="#000" stroke-width="1.4"/>
<rect x="214.31" y="619.6" width="7.2" height="7.2" fill="none" stroke="#000" stroke-width="1.4"/>
<rect x="243.4" y="609.5" width="7.2" height="7.2" fill="none" stroke="#000" stroke-width="1.4"/>
<rect x="319.72" y="586.92" width="7.2" height="7.2" fill="none" stroke="#000" stroke-width="1.4"/>
<circle cx="95.2" cy="733" r="3.9" fill="none" stroke="#ff0000" stroke-width="1.4"/>
<circle cx="138.21" cy="658.61" r="3.9" fill="none" stroke="#ff0000" stroke-width="1.4"/>
<circle cx="173.41" cy="633.21" r="3.9" fill="none" stroke="#ff0000" stroke-width="1.4"/>
<circle cx="212.21" cy="608.4" r="3.9" fill="none" stroke="#ff0000" stroke-width="1.4"/>
<circle cx="252.29" cy="594.53" r="3.9" fill="none" stroke="#ff0000" stroke-width="1.4"/>
<circle cx="314.08" cy="575.21" r="3.9" fill="none" stroke="#ff0000" stroke-width="1.4"/>
<path d="M95.2 728.78L100 737.22L90.4 737.22Z" fill="none" stroke="#0000ff" stroke-width="1.4" stroke-linejoin="miter"/>
<path d="M138.82 655.48L143.62 663.93L134.02 663.93Z" fill="none" stroke="#0000ff" stroke-width="1.4" stroke-linejoin="miter"/>
<path d="M174.31 626.61L179.11 635.05L169.51 635.05Z" fill="none" stroke="#0000ff" stroke-width="1.4" stroke-linejoin="miter"/>
<path d="M211.8 609.17L216.6 617.62L207 617.62Z" fill="none" stroke="#0000ff" stroke-width="1.4" stroke-linejoin="miter"/>
<path d="M251.73 598.77L256.53 607.22L246.93 607.22Z" fill="none" stroke="#0000ff" stroke-width="1.4" stroke-linejoin="miter"/>
<path d="M316.31 585.4L321.11 593.85L311.51 593.85Z" fill="none" stroke="#0000ff" stroke-width="1.4" stroke-linejoin="miter"/>
</g>
<rect x="209.9" y="661.1" width="135.7" height="67.1" fill="#000"/>
<rect x="204.4" y="655.6" width="135.2" height="66.6" fill="#fff" stroke="#555" stroke-width="1.2"/>
<text x="212.8" y="669.4" font-size="12.3" text-anchor="start" font-family="Liberation Serif" font-weight="bold" >Exp</text>
<text x="240" y="669.6" font-size="12.6" text-anchor="start" font-family="Liberation Serif" font-weight="bold" >Mod</text>
<path d="M237.8 681H266.7" stroke="#000" stroke-width="2"/>
<rect x="217.35" y="677.95" width="6.9" height="6.9" fill="none" stroke="#000" stroke-width="1.35"/>
<text x="270.7" y="685.6" font-size="12.7" text-anchor="start" font-family="Liberation Serif" font-weight="bold" >Untreated</text>
<path d="M237.8 697.2H266.7" stroke="#ff0000" stroke-width="2"/>
<circle cx="220.5" cy="697.5" r="3.9" fill="none" stroke="#ff0000" stroke-width="1.4"/>
<text x="270.7" y="701.8" font-size="12.7" text-anchor="start" font-family="Liberation Serif" font-weight="bold" >Treated #8</text>
<path d="M237.8 713.4H266.7" stroke="#0000ff" stroke-width="2"/>
<path d="M220.5 708.08L225.3 716.52L215.7 716.52Z" fill="none" stroke="#0000ff" stroke-width="1.4" stroke-linejoin="miter"/>
<text x="270.7" y="718" font-size="12.7" text-anchor="start" font-family="Liberation Serif" font-weight="bold" >Treated #11</text>
<text x="95.5" y="527.5" font-size="27.5" text-anchor="start" font-family="Liberation Serif" font-weight="bold" >E</text>
<text x="223.5" y="783.7" font-size="19.5" text-anchor="middle" font-family="Liberation Serif" font-weight="bold" >Pressue (psi)</text>
<text transform="translate(14.6 634.2) rotate(-90)" x="0" y="0" font-size="21" text-anchor="middle" font-family="Liberation Serif" font-weight="bold">Absolute sorption</text>
<text transform="translate(41.9 634.2) rotate(-90)" x="0" y="0" font-size="21" text-anchor="middle" font-family="Liberation Serif" font-weight="bold">capacity (scft/ton)</text>
</svg>
</body></html>
